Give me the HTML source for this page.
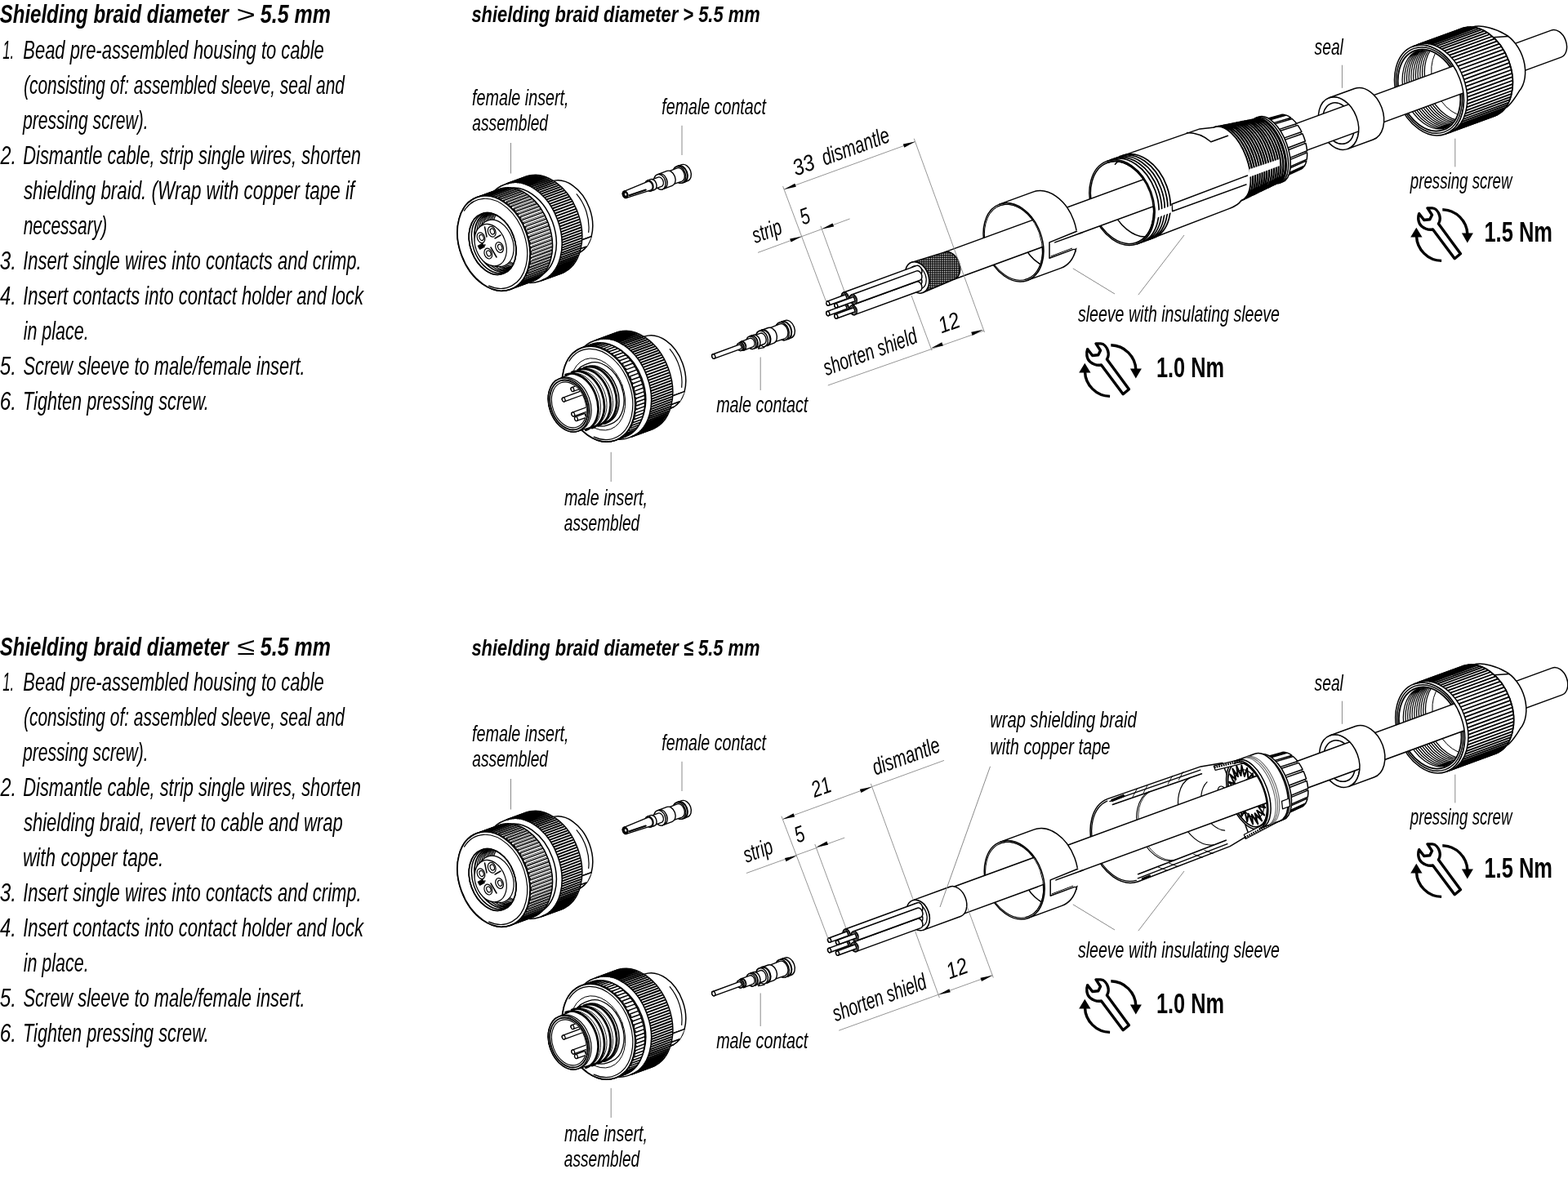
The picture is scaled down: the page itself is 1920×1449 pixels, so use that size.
<!DOCTYPE html>
<html lang="en"><head><meta charset="utf-8"><title>Assembly instructions</title>
<style>
html,body{margin:0;padding:0;background:#fff;}
body{width:1920px;height:1449px;overflow:hidden;}
svg{display:block;position:absolute;left:0;top:0;}
text{font-family:"Liberation Sans",sans-serif;fill:#000;white-space:pre;}
.o{fill:none;stroke:#000;stroke-width:1.5;stroke-linecap:round;stroke-linejoin:round;}
.w{fill:#fff;stroke:#000;stroke-width:1.5;stroke-linecap:round;stroke-linejoin:round;}
.wf{fill:#fff;stroke:none;}
.k{fill:none;stroke:#000;stroke-width:1.1;}
.t{fill:none;stroke:#000;stroke-width:1;}
.g{fill:none;stroke:#8a8a8a;stroke-width:1;}
.b{fill:#000;stroke:none;}
</style></head>
<body>
<svg style="will-change:transform" width="1920" height="1449" viewBox="0 0 1920 1449">
<text x="-0.29" y="28.3" textLength="280.2" lengthAdjust="spacingAndGlyphs" style="font-size:31.5px;font-weight:bold;font-style:italic;">Shielding braid diameter</text>
<text x="289.5" y="27.8" textLength="23.36" lengthAdjust="spacingAndGlyphs" style="font-size:30px;">&gt;</text>
<text x="318.8" y="28.3" textLength="86.24" lengthAdjust="spacingAndGlyphs" style="font-size:31.5px;font-weight:bold;font-style:italic;">5.5 mm</text>
<text x="3.34" y="72.05" textLength="13.93" lengthAdjust="spacingAndGlyphs" style="font-size:31.5px;font-style:italic;">1.</text>
<text x="28.3" y="72.05" textLength="368.47" lengthAdjust="spacingAndGlyphs" style="font-size:31.5px;font-style:italic;">Bead pre-assembled housing to cable</text>
<text x="29" y="115.05" textLength="392.89" lengthAdjust="spacingAndGlyphs" style="font-size:31.5px;font-style:italic;">(consisting of: assembled sleeve, seal and</text>
<text x="28" y="158.05" textLength="153.55" lengthAdjust="spacingAndGlyphs" style="font-size:31.5px;font-style:italic;">pressing screw).</text>
<text x="0.39" y="201.05" textLength="19.5" lengthAdjust="spacingAndGlyphs" style="font-size:31.5px;font-style:italic;">2.</text>
<text x="28.31" y="201.05" textLength="413.65" lengthAdjust="spacingAndGlyphs" style="font-size:31.5px;font-style:italic;">Dismantle cable, strip single wires, shorten</text>
<text x="28.91" y="244.05" textLength="405.17" lengthAdjust="spacingAndGlyphs" style="font-size:31.5px;font-style:italic;">shielding braid. (Wrap with copper tape if</text>
<text x="28.67" y="287.05" textLength="102.54" lengthAdjust="spacingAndGlyphs" style="font-size:31.5px;font-style:italic;">necessary)</text>
<text x="-0.28" y="330.05" textLength="20.29" lengthAdjust="spacingAndGlyphs" style="font-size:31.5px;font-style:italic;">3.</text>
<text x="28.13" y="330.05" textLength="414.59" lengthAdjust="spacingAndGlyphs" style="font-size:31.5px;font-style:italic;">Insert single wires into contacts and crimp.</text>
<text x="0.11" y="373.05" textLength="19.83" lengthAdjust="spacingAndGlyphs" style="font-size:31.5px;font-style:italic;">4.</text>
<text x="28.13" y="373.05" textLength="416.98" lengthAdjust="spacingAndGlyphs" style="font-size:31.5px;font-style:italic;">Insert contacts into contact holder and lock</text>
<text x="28.66" y="416.05" textLength="79.95" lengthAdjust="spacingAndGlyphs" style="font-size:31.5px;font-style:italic;">in place.</text>
<text x="-0.28" y="459.05" textLength="20.29" lengthAdjust="spacingAndGlyphs" style="font-size:31.5px;font-style:italic;">5.</text>
<text x="28.39" y="459.05" textLength="345.27" lengthAdjust="spacingAndGlyphs" style="font-size:31.5px;font-style:italic;">Screw sleeve to male/female insert.</text>
<text x="-0.36" y="502.05" textLength="20.38" lengthAdjust="spacingAndGlyphs" style="font-size:31.5px;font-style:italic;">6.</text>
<text x="28.02" y="502.05" textLength="227.65" lengthAdjust="spacingAndGlyphs" style="font-size:31.5px;font-style:italic;">Tighten pressing screw.</text>
<text x="-0.29" y="802.5" textLength="280.2" lengthAdjust="spacingAndGlyphs" style="font-size:31.5px;font-weight:bold;font-style:italic;">Shielding braid diameter</text>
<text x="290.33" y="802" textLength="21.95" lengthAdjust="spacingAndGlyphs" style="font-size:30px;">≤</text>
<text x="318.8" y="802.5" textLength="86.24" lengthAdjust="spacingAndGlyphs" style="font-size:31.5px;font-weight:bold;font-style:italic;">5.5 mm</text>
<text x="3.34" y="846.25" textLength="13.93" lengthAdjust="spacingAndGlyphs" style="font-size:31.5px;font-style:italic;">1.</text>
<text x="28.3" y="846.25" textLength="368.47" lengthAdjust="spacingAndGlyphs" style="font-size:31.5px;font-style:italic;">Bead pre-assembled housing to cable</text>
<text x="29" y="889.25" textLength="392.89" lengthAdjust="spacingAndGlyphs" style="font-size:31.5px;font-style:italic;">(consisting of: assembled sleeve, seal and</text>
<text x="28" y="932.25" textLength="153.55" lengthAdjust="spacingAndGlyphs" style="font-size:31.5px;font-style:italic;">pressing screw).</text>
<text x="0.39" y="975.25" textLength="19.5" lengthAdjust="spacingAndGlyphs" style="font-size:31.5px;font-style:italic;">2.</text>
<text x="28.31" y="975.25" textLength="413.65" lengthAdjust="spacingAndGlyphs" style="font-size:31.5px;font-style:italic;">Dismantle cable, strip single wires, shorten</text>
<text x="28.91" y="1018.25" textLength="390.76" lengthAdjust="spacingAndGlyphs" style="font-size:31.5px;font-style:italic;">shielding braid, revert to cable and wrap</text>
<text x="27.92" y="1061.25" textLength="172.38" lengthAdjust="spacingAndGlyphs" style="font-size:31.5px;font-style:italic;">with copper tape.</text>
<text x="-0.28" y="1104.25" textLength="20.29" lengthAdjust="spacingAndGlyphs" style="font-size:31.5px;font-style:italic;">3.</text>
<text x="28.13" y="1104.25" textLength="414.59" lengthAdjust="spacingAndGlyphs" style="font-size:31.5px;font-style:italic;">Insert single wires into contacts and crimp.</text>
<text x="0.11" y="1147.25" textLength="19.83" lengthAdjust="spacingAndGlyphs" style="font-size:31.5px;font-style:italic;">4.</text>
<text x="28.13" y="1147.25" textLength="416.98" lengthAdjust="spacingAndGlyphs" style="font-size:31.5px;font-style:italic;">Insert contacts into contact holder and lock</text>
<text x="28.66" y="1190.25" textLength="79.95" lengthAdjust="spacingAndGlyphs" style="font-size:31.5px;font-style:italic;">in place.</text>
<text x="-0.28" y="1233.25" textLength="20.29" lengthAdjust="spacingAndGlyphs" style="font-size:31.5px;font-style:italic;">5.</text>
<text x="28.39" y="1233.25" textLength="345.27" lengthAdjust="spacingAndGlyphs" style="font-size:31.5px;font-style:italic;">Screw sleeve to male/female insert.</text>
<text x="-0.36" y="1276.25" textLength="20.38" lengthAdjust="spacingAndGlyphs" style="font-size:31.5px;font-style:italic;">6.</text>
<text x="28.02" y="1276.25" textLength="227.65" lengthAdjust="spacingAndGlyphs" style="font-size:31.5px;font-style:italic;">Tighten pressing screw.</text>
<defs><pattern id="hatch" width="1.6" height="1.6" patternUnits="userSpaceOnUse"><rect width="1.6" height="1.6" fill="#fff"/><path d="M0 0.4H1.6M0.4 0V1.6" stroke="#000" stroke-width="0.75"/></pattern></defs>
<text x="577.41" y="27" textLength="353.2" lengthAdjust="spacingAndGlyphs" style="font-size:28px;font-weight:bold;font-style:italic;">shielding braid diameter &gt; 5.5 mm</text>
<clipPath id="psclip0"><ellipse cx="1750" cy="110.5" rx="35.7" ry="51" transform="rotate(-20.1 1750 110.5)"/></clipPath>
<ellipse cx="1750" cy="110.5" rx="40" ry="57.2" transform="rotate(-20.1 1750 110.5)" class="w"/>
<ellipse cx="1750" cy="110.5" rx="38.1" ry="54.4" transform="rotate(-20.1 1750 110.5)" class="o"/>
<ellipse cx="1750" cy="110.5" rx="36.1" ry="51.6" transform="rotate(-20.1 1750 110.5)" class="o" style="stroke-width:1.8"/>
<g clip-path="url(#psclip0)"><path d="M1765.8 66.7A35.3 50.5 -20.1 0 0 1718.9 83.9A35.3 50.5 -20.1 0 0 1743.4 150.9A35.3 50.5 -20.1 0 0 1790.3 133.8M1768.5 65.7A35.3 50.5 -20.1 0 0 1721.6 82.9A35.3 50.5 -20.1 0 0 1746.1 149.9A35.3 50.5 -20.1 0 0 1793.1 132.8M1771.3 64.7A35.3 50.5 -20.1 0 0 1724.3 81.9A35.3 50.5 -20.1 0 0 1748.8 148.9A35.3 50.5 -20.1 0 0 1795.8 131.8M1774 63.7A35.3 50.5 -20.1 0 0 1727 80.9A35.3 50.5 -20.1 0 0 1751.6 148A35.3 50.5 -20.1 0 0 1798.5 130.8M1776.7 62.7A35.3 50.5 -20.1 0 0 1729.7 79.9A35.3 50.5 -20.1 0 0 1754.3 147A35.3 50.5 -20.1 0 0 1801.2 129.8M1779.4 61.7A35.3 50.5 -20.1 0 0 1732.5 78.9A35.3 50.5 -20.1 0 0 1757 146A35.3 50.5 -20.1 0 0 1804 128.8M1782.1 60.7A35.3 50.5 -20.1 0 0 1735.2 77.9A35.3 50.5 -20.1 0 0 1759.7 145A35.3 50.5 -20.1 0 0 1806.7 127.8M1784.9 59.7A35.3 50.5 -20.1 0 0 1737.9 76.9A35.3 50.5 -20.1 0 0 1762.5 144A35.3 50.5 -20.1 0 0 1809.4 126.8M1787.6 58.7A35.3 50.5 -20.1 0 0 1740.6 75.9A35.3 50.5 -20.1 0 0 1765.2 143A35.3 50.5 -20.1 0 0 1812.1 125.8M1790.3 57.7A35.3 50.5 -20.1 0 0 1743.4 74.9A35.3 50.5 -20.1 0 0 1767.9 142A35.3 50.5 -20.1 0 0 1814.9 124.8M1793 56.7A35.3 50.5 -20.1 0 0 1746.1 73.9A35.3 50.5 -20.1 0 0 1770.6 141A35.3 50.5 -20.1 0 0 1817.6 123.8" class="t" style="stroke-width:1.25"/><path d="M1798 57.5A32.9 47 -20.1 0 0 1754.3 73.5A32.9 47 -20.1 0 0 1777.1 136A32.9 47 -20.1 0 0 1820.8 120" class="o" style="stroke-width:1"/><path d="M1801.6 53.1A26.6 38 -20.1 0 0 1778.6 87.5A26.6 38 -20.1 0 0 1811 126.6" class="o"/></g>
<ellipse cx="1639" cy="151.1" rx="23.3" ry="33.3" transform="rotate(-20.1 1639 151.1)" class="w"/>
<ellipse cx="1639" cy="151.1" rx="18.2" ry="26" transform="rotate(-20.1 1639 151.1)" class="w"/>
<path d="M1655.7 117.7A18.2 26 -20.1 0 0 1650.1 147.1A18.2 26 -20.1 0 0 1673.3 165.9" class="o" clip-path="url(#sealclip0)"/>
<clipPath id="sealclip0"><ellipse cx="1639" cy="151.1" rx="18.2" ry="26" transform="rotate(-20.1 1639 151.1)"/></clipPath>
<ellipse cx="1241" cy="296.8" rx="34.8" ry="49.7" transform="rotate(-20.1 1241 296.8)" class="w"/>
<ellipse cx="1241" cy="296.8" rx="33.5" ry="47.9" transform="rotate(-20.1 1241 296.8)" class="o" style="stroke-width:1"/>
<clipPath id="ringclip0"><ellipse cx="1241" cy="296.8" rx="33.5" ry="47.9" transform="rotate(-20.1 1241 296.8)"/></clipPath>
<path d="M1253.3 300.3A33.7 48.2 -20.1 0 0 1298.6 327" class="o" clip-path="url(#ringclip0)"/>
<ellipse cx="1374" cy="248.1" rx="37.8" ry="54" transform="rotate(-20.1 1374 248.1)" class="w"/>
<ellipse cx="1374" cy="248.1" rx="36.4" ry="52" transform="rotate(-20.1 1374 248.1)" class="o"/>
<clipPath id="slclip0"><ellipse cx="1374" cy="248.1" rx="36.4" ry="52" transform="rotate(-20.1 1374 248.1)"/></clipPath>
<path d="M1358.2 245.5A35.3 50.5 -20.1 0 0 1379.7 280.9A35.3 50.5 -20.1 0 0 1411.1 288.3" class="o" clip-path="url(#slclip0)"/>
<path d="M1376.4 193.5A35.3 50.5 -20.1 0 0 1365.4 201.3" class="o" clip-path="url(#slclip0)"/>
<path d="M1156.6 308.9L1899.5 37.1A12.3 17.6 -20.1 0 1 1917.1 49.4A12.3 17.6 -20.1 0 1 1911.5 70.1L1168.6 342A12.3 17.6 -20.1 0 0 1174.2 321.2A12.3 17.6 -20.1 0 0 1156.6 308.9Z" class="wf"/>
<path d="M1156.6 308.9L1899.5 37.1A12.3 17.6 -20.1 0 1 1917.1 49.4A12.3 17.6 -20.1 0 1 1911.5 70.1L1168.6 342" class="o"/>
<path d="M1116.2 321.4L1156.6 308.9A12.3 17.6 -20.1 0 1 1174.2 321.2A12.3 17.6 -20.1 0 1 1168.6 342L1129.8 358.5A13.9 19.8 -20.1 0 0 1136 335.2A13.9 19.8 -20.1 0 0 1116.2 321.4Z" fill="url(#hatch)" stroke="#000" stroke-width="1.5"/>
<ellipse cx="1123" cy="339.9" rx="13.9" ry="19.8" transform="rotate(-20.1 1123 339.9)" class="w"/>
<ellipse cx="1123.5" cy="339.8" rx="10.1" ry="14.5" transform="rotate(-20.1 1123.5 339.8)" class="o" style="stroke-width:1.2"/>
<path d="M1032.8 370.6L1122.4 337.8A4.2 6 -20.1 0 1 1128.4 342A4.2 6 -20.1 0 1 1126.6 349.1L1036.9 381.9A4.2 6 -20.1 0 1 1030.9 377.7A4.2 6 -20.1 0 1 1032.8 370.6Z" class="w"/>
<ellipse cx="1034.9" cy="376.3" rx="4.2" ry="6" transform="rotate(-20.1 1034.9 376.3)" class="w"/>
<ellipse cx="1034.9" cy="376.3" rx="3.1" ry="4.4" transform="rotate(-20.1 1034.9 376.3)" class="o" style="stroke-width:1"/>
<path d="M1035.4 373.2L1012.8 381.5A1.9 2.7 -20.1 0 0 1012 384.6A1.9 2.7 -20.1 0 0 1014.7 386.5L1037.2 378.3Z" class="w"/>
<ellipse cx="1013.8" cy="384" rx="1.9" ry="2.7" transform="rotate(-20.1 1013.8 384)" class="w"/>
<path d="M1032.8 358.2L1122.4 325.4A4.2 6 -20.1 0 1 1128.4 329.6A4.2 6 -20.1 0 1 1126.6 336.7L1036.9 369.5A4.2 6 -20.1 0 1 1030.9 365.3A4.2 6 -20.1 0 1 1032.8 358.2Z" class="w"/>
<ellipse cx="1034.9" cy="363.9" rx="4.2" ry="6" transform="rotate(-20.1 1034.9 363.9)" class="w"/>
<ellipse cx="1034.9" cy="363.9" rx="3.1" ry="4.4" transform="rotate(-20.1 1034.9 363.9)" class="o" style="stroke-width:1"/>
<path d="M1035.4 360.8L1012.8 369.1A1.9 2.7 -20.1 0 0 1012 372.2A1.9 2.7 -20.1 0 0 1014.7 374.1L1037.2 365.9Z" class="w"/>
<ellipse cx="1013.8" cy="371.6" rx="1.9" ry="2.7" transform="rotate(-20.1 1013.8 371.6)" class="w"/>
<path d="M1042.8 374.1L1122.4 345A4.2 6 -20.1 0 1 1128.4 349.2A4.2 6 -20.1 0 1 1126.6 356.3L1046.9 385.4A4.2 6 -20.1 0 1 1040.9 381.2A4.2 6 -20.1 0 1 1042.8 374.1Z" class="w"/>
<ellipse cx="1044.9" cy="379.8" rx="4.2" ry="6" transform="rotate(-20.1 1044.9 379.8)" class="w"/>
<ellipse cx="1044.9" cy="379.8" rx="3.1" ry="4.4" transform="rotate(-20.1 1044.9 379.8)" class="o" style="stroke-width:1"/>
<path d="M1045.4 376.7L1022.8 385A1.9 2.7 -20.1 0 0 1022 388.1A1.9 2.7 -20.1 0 0 1024.7 390L1047.2 381.8Z" class="w"/>
<ellipse cx="1023.8" cy="387.5" rx="1.9" ry="2.7" transform="rotate(-20.1 1023.8 387.5)" class="w"/>
<path d="M1042.8 361L1122.4 331.9A4.2 6 -20.1 0 1 1128.4 336.1A4.2 6 -20.1 0 1 1126.6 343.2L1046.9 372.3A4.2 6 -20.1 0 1 1040.9 368.1A4.2 6 -20.1 0 1 1042.8 361Z" class="w"/>
<ellipse cx="1044.9" cy="366.7" rx="4.2" ry="6" transform="rotate(-20.1 1044.9 366.7)" class="w"/>
<ellipse cx="1044.9" cy="366.7" rx="3.1" ry="4.4" transform="rotate(-20.1 1044.9 366.7)" class="o" style="stroke-width:1"/>
<path d="M1045.4 363.6L1022.8 371.9A1.9 2.7 -20.1 0 0 1022 375A1.9 2.7 -20.1 0 0 1024.7 376.9L1047.2 368.7Z" class="w"/>
<ellipse cx="1023.8" cy="374.4" rx="1.9" ry="2.7" transform="rotate(-20.1 1023.8 374.4)" class="w"/>
<path d="M1802.9 33.2C1814.2 29.1 1834.2 37 1841.1 41A29.4 42 -20.1 0 1 1865.7 73.8A29.4 42 -20.1 0 1 1860.1 111.8C1857.6 116.1 1848.6 130.3 1843 132.4Z" class="w"/>
<path d="M1828.9 45.8L1846.7 44.5" class="o"/>
<path d="M1730.3 56.8L1790.3 34.8A40 57.2 -20.1 0 1 1847.6 74.8A40 57.2 -20.1 0 1 1829.7 142.3L1769.7 164.2A40 57.2 -20.1 0 0 1787.6 96.7A40 57.2 -20.1 0 0 1730.3 56.8Z" class="w"/>
<path d="M1773.9 162.7A40 57.2 -20.1 0 0 1791.8 95.2A40 57.2 -20.1 0 0 1734.6 55.2" class="o"/>
<path d="M1775.3 162.1L1831.1 141.7M1778.2 160.7L1833.9 140.3M1780.8 159L1836.6 138.5M1783.4 156.9L1839.1 136.5M1785.7 154.6L1841.5 134.2M1787.8 152L1843.6 131.6M1789.7 149.1L1845.5 128.7M1791.5 146L1847.2 125.6M1792.9 142.6L1848.7 122.2M1794.2 139.1L1850 118.6M1795.2 135.3L1851 114.9M1795.9 131.4L1851.7 111M1796.4 127.4L1852.2 106.9M1796.6 123.2L1852.4 102.8M1796.6 118.9L1852.4 98.5M1796.3 114.6L1852.1 94.2M1795.8 110.3L1851.5 89.9M1794.9 105.9L1850.7 85.5M1793.9 101.6L1849.7 81.2M1792.6 97.3L1848.3 76.9M1791 93.1L1846.8 72.7M1789.3 89L1845 68.6M1787.3 85L1843 64.6M1785.1 81.1L1840.9 60.7M1782.7 77.5L1838.5 57M1780.1 74L1835.9 53.6M1777.4 70.7L1833.2 50.3M1774.6 67.7L1830.3 47.3M1771.6 64.9L1827.4 44.5M1768.5 62.4L1824.3 42M1765.3 60.2L1821.1 39.8M1762.1 58.3L1817.8 37.8M1758.8 56.6L1814.5 36.2M1755.4 55.4L1811.2 35M1752.1 54.4L1807.9 34M1748.8 53.8L1804.6 33.4M1745.5 53.5L1801.3 33.1M1742.3 53.6L1798.1 33.2M1739.1 54L1794.9 33.6M1736.1 54.7L1791.8 34.3" class="k" style="stroke-width:1.8"/>
<path d="M1829.7 142.3A40 57.2 -20.1 0 0 1847.6 74.8A40 57.2 -20.1 0 0 1790.3 34.8" class="o"/>
<path d="M1627.6 119.8L1658.6 108.5A23.3 33.3 -20.1 0 1 1691.9 131.8A23.3 33.3 -20.1 0 1 1681.4 171L1650.4 182.4A23.3 33.3 -20.1 0 0 1660.9 143.1A23.3 33.3 -20.1 0 0 1627.6 119.8Z" class="w"/>
<path d="M1223.9 250.1L1264.9 235.1A34.8 49.7 -20.1 0 1 1314.7 269.8A34.8 49.7 -20.1 0 1 1299.1 328.4L1258.1 343.4A34.8 49.7 -20.1 0 0 1273.7 284.8A34.8 49.7 -20.1 0 0 1223.9 250.1Z" class="w"/>
<path d="M1254.2 342.7A33.5 47.9 -20.1 0 0 1276.4 310.8A33.5 47.9 -20.1 0 0 1259 263.2A33.5 47.9 -20.1 0 0 1221.5 253.2" class="o" style="stroke-width:1"/>
<path d="M1321 281L1285 296.9L1285 316.3L1313.8 305.6L1320 303Z" class="wf"/>
<path d="M1318.5 283.3L1285 296.9L1285 316.3L1313.8 305.6Q1317.5 304.6 1317 308" class="o"/>
<path d="M1286.5 314L1313 304" class="t"/>
<path d="M1291.8 296.9L1325.2 284.7" class="o"/>
<path d="M1544.1 150.6L1568.8 143.7A16.2 32.5 -20.1 0 1 1595.3 168.6A16.2 32.5 -20.1 0 1 1591.2 204.7L1567.9 215.4A17.2 34.5 -20.1 0 0 1572.2 177.1A17.2 34.5 -20.1 0 0 1544.1 150.6Z" class="w" style="stroke-width:1"/>
<path d="M1569.4 218L1592.7 207.4A17.8 35.5 -20.1 0 0 1596.7 204.1L1573.6 214.6Z" class="w" style="stroke-width:1.5"/>
<path d="M1574.5 213.4L1597.5 203A17.8 35.5 -20.1 0 0 1599.8 196.9L1577 207Z" class="w" style="stroke-width:1.5"/>
<path d="M1577.3 205.1L1600.2 195.1A17.8 35.5 -20.1 0 0 1600.6 186.9L1577.8 196.4Z" class="w" style="stroke-width:1.5"/>
<path d="M1577.6 194.1L1600.5 184.7A17.8 35.5 -20.1 0 0 1598.9 175.4L1576 184.3Z" class="w" style="stroke-width:1.5"/>
<path d="M1575.3 181.8L1598.3 173A17.8 35.5 -20.1 0 0 1594.9 163.8L1571.7 171.9Z" class="w" style="stroke-width:1.5"/>
<path d="M1570.7 169.6L1593.9 161.5A17.8 35.5 -20.1 0 0 1589.1 153.4L1565.6 161Z" class="w" style="stroke-width:1.5"/>
<path d="M1564.2 159.1L1587.8 151.5A17.8 35.5 -20.1 0 0 1582.2 145.5L1558.4 152.6Z" class="w" style="stroke-width:1.5"/>
<path d="M1556.8 151.4L1580.8 144.3A17.8 35.5 -20.1 0 0 1575.1 141.1L1550.8 148Z" class="w" style="stroke-width:1.5"/>
<path d="M1549.3 147.5L1573.7 140.7A17.8 35.5 -20.1 0 0 1568.5 140.6L1543.9 147.5Z" class="w" style="stroke-width:1.5"/>
<path d="M1535.9 145.1L1540.9 143.3A21.2 42.5 -20.1 0 1 1575.5 175.9A21.2 42.5 -20.1 0 1 1570.1 223.1L1565.1 224.9A21.2 42.5 -20.1 0 0 1570.5 177.7A21.2 42.5 -20.1 0 0 1535.9 145.1Z" class="w"/>
<path d="M1567.5 224A21.2 42.5 -20.1 0 0 1572.9 176.8A21.2 42.5 -20.1 0 0 1538.3 144.2" class="o"/>
<path d="M1487.1 155.9L1535.7 146.2A20.8 41.5 -20.1 0 1 1569.5 178.1A20.8 41.5 -20.1 0 1 1564.3 224.2L1519.9 245.5A23.9 47.7 -20.1 0 0 1525.9 192.5A23.9 47.7 -20.1 0 0 1487.1 155.9Z" class="w"/>
<path d="M1519.9 245.5A23.9 47.7 -20.1 0 0 1525.9 192.5A23.9 47.7 -20.1 0 0 1487.1 155.9M1522.9 244.1A23.6 47.3 -20.1 0 0 1528.8 191.5A23.6 47.3 -20.1 0 0 1490.3 155.3M1525.8 242.7A23.4 46.9 -20.1 0 0 1531.7 190.6A23.4 46.9 -20.1 0 0 1493.6 154.6M1528.8 241.2A23.2 46.5 -20.1 0 0 1534.6 189.6A23.2 46.5 -20.1 0 0 1496.8 154M1531.7 239.8A23 46 -20.1 0 0 1537.5 188.7A23 46 -20.1 0 0 1500.1 153.3M1534.7 238.4A22.8 45.6 -20.1 0 0 1540.4 187.7A22.8 45.6 -20.1 0 0 1503.3 152.7M1537.6 237A22.6 45.2 -20.1 0 0 1543.3 186.7A22.6 45.2 -20.1 0 0 1506.6 152M1540.6 235.5A22.4 44.8 -20.1 0 0 1546.2 185.8A22.4 44.8 -20.1 0 0 1509.8 151.4M1543.6 234.1A22.2 44.4 -20.1 0 0 1549.1 184.8A22.2 44.4 -20.1 0 0 1513 150.7M1546.5 232.7A22 44 -20.1 0 0 1552.1 183.8A22 44 -20.1 0 0 1516.3 150.1M1549.5 231.3A21.8 43.6 -20.1 0 0 1555 182.9A21.8 43.6 -20.1 0 0 1519.5 149.4M1552.4 229.9A21.6 43.2 -20.1 0 0 1557.9 181.9A21.6 43.2 -20.1 0 0 1522.8 148.8M1555.4 228.4A21.4 42.7 -20.1 0 0 1560.8 180.9A21.4 42.7 -20.1 0 0 1526 148.2M1558.3 227A21.2 42.3 -20.1 0 0 1563.7 180A21.2 42.3 -20.1 0 0 1529.3 147.5M1561.3 225.6A21 41.9 -20.1 0 0 1566.6 179A21 41.9 -20.1 0 0 1532.5 146.9M1564.3 224.2A20.8 41.5 -20.1 0 0 1569.5 178.1A20.8 41.5 -20.1 0 0 1535.7 146.2" class="o" style="stroke-width:2.2"/>
<path d="M1355.4 197.4L1469.1 157.9L1487.1 155.9A23.9 47.7 -20.1 0 1 1525.9 192.5A23.9 47.7 -20.1 0 1 1519.9 245.5C1517.4 249.8 1511.4 253.2 1504.9 255.6L1392.6 298.8A37.8 54 -20.1 0 0 1409.5 235.1A37.8 54 -20.1 0 0 1355.4 197.4Z" class="w"/>
<path d="M1397.5 297A37.8 54 -20.1 0 0 1414.5 233.3A37.8 54 -20.1 0 0 1360.4 195.6M1401.1 295.7A37.8 54 -20.1 0 0 1418 232A37.8 54 -20.1 0 0 1364 194.3M1404.7 294.4A37.8 54 -20.1 0 0 1421.6 230.7A37.8 54 -20.1 0 0 1367.6 193M1408.2 293.1A37.8 54 -20.1 0 0 1425.2 229.4A37.8 54 -20.1 0 0 1371.1 191.6M1411.8 291.8A37.8 54 -20.1 0 0 1428.7 228.1A37.8 54 -20.1 0 0 1374.7 190.3" class="o" style="stroke-width:1.7"/>
<path d="M1391.9 296.9A36.4 52 -20.1 0 0 1408.2 235.6A36.4 52 -20.1 0 0 1356.1 199.3" class="o"/>
<path d="M1527.5 215L1435 250L1435.6 258.8L1526 226" class="o"/>
<path d="M1416.4 266.7L1416.9 258.2L1434.7 251.7L1434.2 260.2Z" class="wf"/>
<path d="M1529.5 207.5L1566.5 195L1567 203L1529.5 217Z" class="wf"/>
<path d="M1453.5 162.5C1464 162.5 1474 166 1482.8 173.8L1503.5 166.3" class="o"/>
<path d="M649.9 231.5L674.9 222.4A32.8 46.8 -20.1 0 1 721.8 255.1A32.8 46.8 -20.1 0 1 707.1 310.3L682.1 319.4A32.8 46.8 -20.1 0 1 635.2 286.8A32.8 46.8 -20.1 0 1 649.9 231.5Z" class="w"/>
<path d="M706.2 237.8A32.8 46.8 -20.1 0 1 720.7 284.5" class="o" style="stroke-width:1.2"/>
<path d="M718.2 301.9L703.2 307.4" class="o"/>
<path d="M724.1 289.7L709 295.2" class="o"/>
<path d="M718.7 301.7L704.1 307L710 294.8L724.5 289.5Z" class="wf"/>
<path d="M718.2 301.9L704.1 307M724.1 289.7L710 294.8" class="o"/>
<path d="M711 308.6L696 314.1l-3 -5" class="o"/>
<path d="M617.3 226.2L644.3 216.3A44.1 63 -20.1 0 1 707.4 260.3A44.1 63 -20.1 0 1 687.7 334.7L660.7 344.5A44.1 63 -20.1 0 1 597.6 300.5A44.1 63 -20.1 0 1 617.3 226.2Z" class="w"/>
<path d="M664.1 343.2L688.3 334.4M666.3 342.3L690.5 333.4M668.4 341.1L692.6 332.2M670.4 339.8L694.6 330.9M672.4 338.3L696.5 329.4M674.2 336.6L698.4 327.8M676 334.8L700.1 326M677.6 332.9L701.8 324M679.1 330.8L703.3 321.9M680.6 328.6L704.8 319.7M681.9 326.2L706.1 317.4M683.1 323.7L707.3 314.9M684.2 321.1L708.4 312.3M685.1 318.4L709.3 309.6M685.9 315.6L710.1 306.8M686.6 312.7L710.8 303.9M687.2 309.8L711.4 300.9M687.6 306.7L711.8 297.9M687.9 303.6L712.1 294.8M688.1 300.4L712.2 291.6M688.1 297.2L712.3 288.4M687.9 294L712.1 285.1M687.7 290.7L711.9 281.8M687.3 287.4L711.5 278.5M686.8 284.1L710.9 275.2M686.1 280.8L710.3 271.9M685.3 277.5L709.5 268.6M684.4 274.2L708.6 265.4M683.3 271L707.5 262.1M682.2 267.8L706.3 258.9M680.9 264.6L705.1 255.8M679.5 261.5L703.6 252.7M677.9 258.5L702.1 249.6M676.3 255.5L700.5 246.7M674.6 252.7L698.8 243.8M672.8 249.9L696.9 241M670.8 247.2L695 238.4M668.8 244.7L693 235.8M666.7 242.2L690.9 233.4M664.6 239.9L688.8 231M662.4 237.7L686.5 228.8M660.1 235.6L684.2 226.8M657.7 233.7L681.9 224.9M655.3 232L679.5 223.1M652.9 230.4L677.1 221.5M650.4 228.9L674.6 220.1M647.9 227.6L672.1 218.8M645.4 226.5L669.6 217.7M642.9 225.6L667.1 216.7M640.4 224.8L664.5 215.9M637.8 224.2L662 215.3M635.3 223.8L659.5 214.9M632.8 223.5L657 214.7M630.3 223.4L654.5 214.6M627.9 223.6L652.1 214.7M625.5 223.8L649.7 215M623.1 224.3L647.3 215.5M620.8 225L645 216.1" class="k" style="stroke-width:1.9"/>
<path d="M663 343.7A44.1 63 -20.1 0 0 682.8 269.4A44.1 63 -20.1 0 0 619.7 225.4" class="o"/>
<path d="M612.4 234.4L619.4 231.8A39.9 57 -20.1 0 1 676.5 271.7A39.9 57 -20.1 0 1 658.6 338.9L651.6 341.5A39.9 57 -20.1 0 1 594.5 301.6A39.9 57 -20.1 0 1 612.4 234.4Z" class="w"/>
<path d="M657.3 339.1A39.9 57 -20.1 0 0 671.5 273.5A39.9 57 -20.1 0 0 618.3 232.6" class="t"/>
<path d="M583.9 241.7L611.4 231.6A42 60 -20.1 0 1 671.4 273.5A42 60 -20.1 0 1 652.6 344.3L625.1 354.3A42 60 -20.1 0 1 565.1 312.4A42 60 -20.1 0 1 583.9 241.7Z" class="w"/>
<path d="M626.9 353.7L653.5 343.9M629.8 352.3L656.4 342.6M632.5 350.7L659.1 341M635.1 348.8L661.6 339M637.5 346.5L664 336.8M639.7 344.1L666.3 334.3M641.7 341.3L668.3 331.6M643.5 338.3L670.1 328.6M645.2 335.1L671.7 325.4M646.5 331.7L673.1 321.9M647.7 328L674.3 318.3M648.6 324.2L675.2 314.5M649.3 320.3L675.9 310.6M649.7 316.2L676.3 306.5M649.9 312.1L676.5 302.3M649.9 307.8L676.4 298.1M649.6 303.5L676.1 293.8M649 299.2L675.6 289.4M648.2 294.8L674.8 285.1M647.2 290.5L673.7 280.8M645.9 286.2L672.5 276.5M644.4 282L671 272.2M642.7 277.8L669.3 268.1M640.8 273.8L667.3 264.1M638.6 269.9L665.2 260.2M636.3 266.2L662.9 256.4M633.9 262.6L660.4 252.9M631.2 259.2L657.8 249.5M628.4 256.1L655 246.3M625.5 253.1L652.1 243.4M622.5 250.5L649.1 240.7M619.4 248.1L645.9 238.3M616.2 245.9L642.7 236.2M612.9 244.1L639.5 234.4M609.6 242.5L636.2 232.8M606.3 241.3L632.9 231.6M603 240.4L629.5 230.7M599.7 239.8L626.2 230.1M596.4 239.5L622.9 229.8M593.2 239.6L619.7 229.8M590 239.9L616.5 230.2M586.9 240.6L613.5 230.9" class="k" style="stroke-width:1.4"/>
<path d="M629.5 352.7L654.7 343.4M632.3 351.2L657.5 342M635 349.4L660.1 340.2M637.5 347.4L662.6 338.2M639.8 345.1L664.9 335.9M641.9 342.5L667.1 333.3M643.9 339.6L669 330.4M645.6 336.5L670.8 327.3M647.1 333.2L672.3 324M648.4 329.7L673.6 320.5M649.5 326L674.7 316.8M650.3 322.2L675.5 313M650.9 318.2L676.1 309M651.3 314.1L676.4 304.9M651.4 309.9L676.5 300.7M651.2 305.6L676.3 296.4M650.8 301.3L675.9 292.1M650.1 296.9L675.3 287.7M649.2 292.6L674.4 283.4M648.1 288.2L673.3 279M646.7 284L671.9 274.8M645.2 279.8L670.3 270.6M643.4 275.7L668.5 266.5M641.4 271.7L666.5 262.5M639.2 267.9L664.3 258.7M636.8 264.2L661.9 255M634.2 260.7L659.4 251.5M631.5 257.4L656.7 248.2M628.7 254.3L653.8 245.1M625.7 251.5L650.9 242.3M622.7 249L647.8 239.7M619.5 246.7L644.7 237.5M616.3 244.6L641.4 235.4M613 242.9L638.2 233.7M609.7 241.5L634.9 232.3M606.4 240.4L631.5 231.2M603.1 239.6L628.2 230.4M599.8 239.1L624.9 229.9M596.5 239L621.6 229.8M593.3 239.2L618.4 230M590.2 239.7L615.3 230.5M587.1 240.5L612.3 231.3" class="k" style="stroke-width:0.7"/>
<ellipse cx="604.5" cy="298" rx="42" ry="60" transform="rotate(-20.1 604.5 298)" class="w" style="stroke-width:1.8"/>
<path d="M614.7 356.2L618.7 355.5L619.4 355.8L623.3 354.8L623.8 354.8L627.7 353.4L628 353.1L631.7 351.4L632 350.7L635.5 348.7L635.6 347.8L639 345.5L638.9 344.2L642.1 341.6L641.8 340.1L644.7 337.3L644.2 335.5L646.9 332.4L646.1 330.5L648.6 327.2L647.6 325.1L649.8 321.6L648.5 319.3L650.5 315.8L649 313.4L650.7 309.7L648.9 307.2L650.3 303.4L648.3 300.9L649.5 297.1L647.2 294.6L648.1 290.8L645.5 288.3L646.2 284.6L643.4 282.2L643.9 278.5L640.8 276.2L641.1 272.7L637.8 270.5L637.9 267.1L634.5 265.1L634.3 261.9L630.7 260.1L630.4 257.1L626.7 255.5L626.2 252.8L622.3 251.5L621.8 249L617.8 248L617.2 245.8L613.1 245L612.5 243.2L608.4 242.7L607.6 241.2L603.5 241.1L602.8 239.9L598.7 240.1L598 239.3L594 239.8L593.3 239.3L589.3 240.2L588.8 240.1L584.9 241.3L584.5 241.5L580.7 243L580.4 243.5L576.8 245.4L576.6 246.2L573.1 248.4" class="o" style="stroke-width:1.2"/>
<path d="M598.6 350.1A39.8 56.8 -20.1 0 0 644.1 325A39.8 56.8 -20.1 0 0 621.2 254.9A39.8 56.8 -20.1 0 0 568.5 258.1" class="o" style="stroke-width:1.2"/>
<ellipse cx="603.1" cy="298.5" rx="27.3" ry="39" transform="rotate(-20.1 603.1 298.5)" class="w"/>
<clipPath id="fi0"><ellipse cx="603.1" cy="298.5" rx="27.3" ry="39" transform="rotate(-20.1 603.1 298.5)"/></clipPath>
<g clip-path="url(#fi0)"><path d="M596.8 260.3A26.9 38.5 -20.1 0 0 577.5 285.6A26.9 38.5 -20.1 0 0 591.9 324.9A26.9 38.5 -20.1 0 0 622.9 331.7" class="o"/><path d="M600.2 259.6A26.6 38 -20.1 0 0 581.1 284.5A26.6 38 -20.1 0 0 595.4 323.4A26.6 38 -20.1 0 0 626 330.1" class="o" style="stroke-width:1.8"/><path d="M606.9 259.1A26.2 37.5 -20.1 0 0 584 282A26.2 37.5 -20.1 0 0 599.2 323.4A26.2 37.5 -20.1 0 0 631.4 326.1M609.3 258.2A26.2 37.5 -20.1 0 0 586.5 281.1A26.2 37.5 -20.1 0 0 601.6 322.5A26.2 37.5 -20.1 0 0 633.9 325.2M611.8 257.4A26.2 37.5 -20.1 0 0 588.9 280.2A26.2 37.5 -20.1 0 0 604.1 321.6A26.2 37.5 -20.1 0 0 636.3 324.3M614.2 256.5A26.2 37.5 -20.1 0 0 591.3 279.3A26.2 37.5 -20.1 0 0 606.5 320.7A26.2 37.5 -20.1 0 0 638.7 323.4M616.7 255.6A26.2 37.5 -20.1 0 0 593.8 278.4A26.2 37.5 -20.1 0 0 608.9 319.8A26.2 37.5 -20.1 0 0 641.2 322.6M619.1 254.7A26.2 37.5 -20.1 0 0 596.2 277.6A26.2 37.5 -20.1 0 0 611.4 319A26.2 37.5 -20.1 0 0 643.6 321.7M621.6 253.8A26.2 37.5 -20.1 0 0 598.7 276.7A26.2 37.5 -20.1 0 0 613.8 318.1A26.2 37.5 -20.1 0 0 646.1 320.8M624 252.9A26.2 37.5 -20.1 0 0 601.1 275.8A26.2 37.5 -20.1 0 0 616.3 317.2A26.2 37.5 -20.1 0 0 648.5 319.9M626.4 252A26.2 37.5 -20.1 0 0 603.6 274.9A26.2 37.5 -20.1 0 0 618.7 316.3A26.2 37.5 -20.1 0 0 651 319" class="o" style="stroke-width:1.3"/><ellipse cx="607.3" cy="297.8" rx="20.6" ry="29.5" transform="rotate(-20.1 607.3 297.8)" class="w" style="stroke-width:1.2"/><ellipse cx="600.7" cy="300.2" rx="18.5" ry="26.5" transform="rotate(-20.1 600.7 300.2)" class="w" style="stroke-width:1.2"/></g>
<ellipse cx="603.1" cy="298.5" rx="27.3" ry="39" transform="rotate(-20.1 603.1 298.5)" class="o"/>
<ellipse cx="602.2" cy="283.8" rx="4.6" ry="6.6" transform="rotate(-20.1 602.2 283.8)" class="w" style="stroke-width:1.2"/>
<ellipse cx="602.8" cy="283.5" rx="2.5" ry="3.6" transform="rotate(-20.1 602.8 283.5)" class="w" style="stroke-width:1.2"/>
<ellipse cx="589" cy="291.2" rx="4.6" ry="6.6" transform="rotate(-20.1 589 291.2)" class="w" style="stroke-width:1.2"/>
<ellipse cx="589.6" cy="291" rx="2.5" ry="3.6" transform="rotate(-20.1 589.6 291)" class="w" style="stroke-width:1.2"/>
<ellipse cx="611.6" cy="303" rx="4.6" ry="6.6" transform="rotate(-20.1 611.6 303)" class="w" style="stroke-width:1.2"/>
<ellipse cx="612.2" cy="302.8" rx="2.5" ry="3.6" transform="rotate(-20.1 612.2 302.8)" class="w" style="stroke-width:1.2"/>
<ellipse cx="597.8" cy="310.6" rx="4.6" ry="6.6" transform="rotate(-20.1 597.8 310.6)" class="w" style="stroke-width:1.2"/>
<ellipse cx="598.4" cy="310.4" rx="2.5" ry="3.6" transform="rotate(-20.1 598.4 310.4)" class="w" style="stroke-width:1.2"/>
<path d="M594 300L586.5 303.5M606 292L613 288M601 303L608 315M593.5 278L596 290" class="o"/>
<path d="M584.5 301l6.5 -3.5l3 5l-6.5 3.5Z" class="b"/>
<path d="M760.9 422.5L788.9 412.3A32.8 46.8 -20.1 0 1 835.8 445A32.8 46.8 -20.1 0 1 821.1 500.2L793.1 510.4A32.8 46.8 -20.1 0 1 746.2 477.8A32.8 46.8 -20.1 0 1 760.9 422.5Z" class="w"/>
<path d="M820.2 427.7A32.8 46.8 -20.1 0 1 834.7 474.4" class="o" style="stroke-width:1.2"/>
<path d="M832.2 491.8L817.2 497.3" class="o"/>
<path d="M838.1 479.6L823 485.1" class="o"/>
<path d="M832.7 491.6L818.1 496.9L824 484.7L838.5 479.4Z" class="wf"/>
<path d="M832.2 491.8L818.1 496.9M838.1 479.6L824 484.7" class="o"/>
<path d="M825 498.5L810 504l-3 -5" class="o"/>
<path d="M726.7 417.8L755.3 407.3A44.1 63 -20.1 0 1 818.4 451.3A44.1 63 -20.1 0 1 798.7 525.7L770.1 536.1A44.1 63 -20.1 0 1 707 492.1A44.1 63 -20.1 0 1 726.7 417.8Z" class="w"/>
<path d="M773.5 534.8L799.3 525.4M775.7 533.8L801.5 524.4M777.8 532.7L803.6 523.2M779.8 531.4L805.6 521.9M781.8 529.9L807.5 520.4M783.6 528.2L809.4 518.8M785.4 526.4L811.1 517M787 524.5L812.8 515M788.5 522.4L814.3 512.9M790 520.1L815.8 510.7M791.3 517.8L817.1 508.4M792.5 515.3L818.3 505.9M793.6 512.7L819.4 503.3M794.5 510L820.3 500.6M795.3 507.2L821.1 497.8M796 504.3L821.8 494.9M796.6 501.4L822.4 491.9M797 498.3L822.8 488.9M797.3 495.2L823.1 485.8M797.5 492L823.2 482.6M797.5 488.8L823.3 479.4M797.3 485.6L823.1 476.1M797.1 482.3L822.9 472.8M796.7 479L822.5 469.5M796.2 475.7L821.9 466.2M795.5 472.4L821.3 462.9M794.7 469.1L820.5 459.6M793.8 465.8L819.6 456.4M792.7 462.6L818.5 453.1M791.6 459.4L817.3 449.9M790.3 456.2L816.1 446.8M788.9 453.1L814.6 443.7M787.3 450.1L813.1 440.6M785.7 447.1L811.5 437.7M784 444.3L809.8 434.8M782.2 441.5L807.9 432M780.2 438.8L806 429.4M778.2 436.2L804 426.8M776.1 433.8L801.9 424.4M774 431.5L799.8 422M771.8 429.3L797.5 419.8M769.5 427.2L795.2 417.8M767.1 425.3L792.9 415.9M764.7 423.6L790.5 414.1M762.3 421.9L788.1 412.5M759.8 420.5L785.6 411.1M757.3 419.2L783.1 409.8M754.8 418.1L780.6 408.7M752.3 417.1L778.1 407.7M749.8 416.4L775.5 406.9M747.2 415.8L773 406.3M744.7 415.3L770.5 405.9M742.2 415.1L768 405.7M739.7 415L765.5 405.6M737.3 415.1L763.1 405.7M734.9 415.4L760.7 406M732.5 415.9L758.3 406.5M730.2 416.6L756 407.1" class="k" style="stroke-width:1.9"/>
<path d="M772.4 535.3A44.1 63 -20.1 0 0 792.2 460.9A44.1 63 -20.1 0 0 729.1 416.9" class="o"/>
<path d="M725.4 424.7L728.8 423.4A39.9 57 -20.1 0 1 785.9 463.3A39.9 57 -20.1 0 1 768 530.5L764.6 531.7A39.9 57 -20.1 0 1 707.5 491.9A39.9 57 -20.1 0 1 725.4 424.7Z" class="w"/>
<path d="M770.3 529.3A39.9 57 -20.1 0 0 784.5 463.7A39.9 57 -20.1 0 0 731.3 422.8" class="t"/>
<path d="M712.3 426L724.3 421.6A42.2 60.3 -20.1 0 1 784.6 463.7A42.2 60.3 -20.1 0 1 765.7 534.8L753.7 539.2A42.2 60.3 -20.1 0 1 693.4 497.1A42.2 60.3 -20.1 0 1 712.3 426Z" class="w"/>
<path d="M756.2 538.3L767.3 534.2M759.2 536.8L770.2 532.7M762 535L773.1 530.9M764.6 532.8L775.7 528.8M767.1 530.4L778.2 526.3M769.4 527.6L780.4 523.6M771.4 524.6L782.4 520.5M773.2 521.3L784.3 517.2M774.8 517.7L785.8 513.7M776.1 514L787.1 509.9M777.1 510L788.2 506M777.9 505.9L789 501.9M778.4 501.7L789.5 497.6M778.6 497.3L789.7 493.2M778.6 492.8L789.7 488.7M778.3 488.2L789.4 484.2M777.7 483.7L788.8 479.6M776.9 479.1L787.9 475M775.7 474.5L786.8 470.5M774.4 470L785.4 465.9M772.7 465.5L783.8 461.5M770.9 461.2L781.9 457.1M768.8 457L779.8 452.9M766.5 452.9L777.5 448.9M764 449L775 445M761.3 445.4L772.3 441.3M758.4 441.9L769.5 437.9M755.4 438.7L766.4 434.7M752.2 435.8L763.3 431.8M749 433.2L760 429.1M745.6 430.8L756.7 426.8M742.2 428.8L753.3 424.8M738.7 427.1L749.8 423.1M735.2 425.8L746.3 421.7M731.7 424.8L742.8 420.7M728.2 424.1L739.3 420.1M724.8 423.8L735.8 419.8M721.3 423.9L732.4 419.8M718 424.3L729.1 420.3M714.8 425.1L725.8 421.1" class="k" style="stroke-width:1.5"/>
<ellipse cx="733" cy="482.6" rx="42.2" ry="60.3" transform="rotate(-20.1 733 482.6)" class="w" style="stroke-width:1.8"/>
<path d="M743.3 541.1L747.3 540.3L747.9 540.7L751.9 539.7L752.4 539.7L756.3 538.3L756.7 538L760.4 536.3L760.6 535.6L764.2 533.6L764.3 532.6L767.7 530.3L767.6 529.1L770.7 526.4L770.4 524.9L773.4 522.1L772.9 520.3L775.6 517.2L774.8 515.3L777.3 512L776.3 509.8L778.5 506.3L777.3 504L779.2 500.4L777.7 498L779.4 494.3L777.6 491.8L779.1 488.1L777 485.5L778.2 481.7L775.9 479.2L776.8 475.4L774.2 472.9L774.9 469.1L772.1 466.7L772.6 463L769.5 460.7L769.8 457.2L766.5 454.9L766.5 451.6L763.1 449.5L763 446.3L759.3 444.5L759 441.5L755.3 439.9L754.8 437.2L750.9 435.8L750.4 433.4L746.4 432.3L745.7 430.2L741.7 429.4L741 427.5L736.9 427.1L736.1 425.5L732 425.4L731.3 424.2L727.2 424.4L726.5 423.6L722.4 424.1L721.8 423.6L717.8 424.5L717.2 424.4L713.3 425.6L712.8 425.8L709.1 427.4L708.7 427.9L705.1 429.8L704.9 430.6L701.5 432.8" class="o" style="stroke-width:1.2"/>
<path d="M727.2 535.1A40.1 57.3 -20.1 0 0 773.2 509.8A40.1 57.3 -20.1 0 0 750.1 439.1A40.1 57.3 -20.1 0 0 696.9 442.3" class="o" style="stroke-width:1.2"/>
<ellipse cx="732.1" cy="482.9" rx="31.8" ry="45.5" transform="rotate(-20.1 732.1 482.9)" class="o" style="stroke-width:0.9"/>
<path d="M716.5 446.6L721.2 444.9A27.6 39.5 -20.1 0 1 760.7 472.5A27.6 39.5 -20.1 0 1 748.3 519.1L743.6 520.8A27.6 39.5 -20.1 0 1 704.1 493.2A27.6 39.5 -20.1 0 1 716.5 446.6Z" class="w" style="stroke-width:1.3"/>
<path d="M684.8 464L718.5 449.1A25.5 36.5 -20.1 0 1 755 474.6A25.5 36.5 -20.1 0 1 743.5 517.6L708.2 527.9A23.8 34 -20.1 0 1 674.1 504.1A23.8 34 -20.1 0 1 684.8 464Z" class="w"/>
<path d="M717.4 526.8A25.3 36.2 -20.1 0 0 732.5 502.4A25.3 36.2 -20.1 0 0 719.9 467.8A25.3 36.2 -20.1 0 0 692.6 458.9M724.9 524.1A25.3 36.2 -20.1 0 0 740 499.6A25.3 36.2 -20.1 0 0 727.4 465.1A25.3 36.2 -20.1 0 0 700.1 456.1M732.5 521.3A25.3 36.2 -20.1 0 0 747.6 496.9A25.3 36.2 -20.1 0 0 735 462.3A25.3 36.2 -20.1 0 0 707.7 453.3M740 518.6A25.3 36.2 -20.1 0 0 755.1 494.1A25.3 36.2 -20.1 0 0 742.5 459.5A25.3 36.2 -20.1 0 0 715.2 450.6" class="o" style="stroke-width:2.7"/>
<path d="M721.6 524.3A24.6 35.2 -20.1 0 0 732.6 482.7A24.6 35.2 -20.1 0 0 697.4 458.1M729.1 521.5A24.6 35.2 -20.1 0 0 740.1 480A24.6 35.2 -20.1 0 0 704.9 455.4M736.6 518.8A24.6 35.2 -20.1 0 0 747.6 477.2A24.6 35.2 -20.1 0 0 712.4 452.7" class="t" style="stroke-width:0.9"/>
<ellipse cx="696.5" cy="496" rx="23.8" ry="34" transform="rotate(-20.1 696.5 496)" class="w" style="stroke-width:1.6"/>
<path d="M710.5 527A23.8 34 -20.1 0 0 721.2 486.9A23.8 34 -20.1 0 0 687.2 463.2" class="o" style="stroke-width:1.2"/>
<ellipse cx="696.5" cy="496" rx="22" ry="31.4" transform="rotate(-20.1 696.5 496)" class="o" style="stroke-width:1.8"/>
<ellipse cx="696.8" cy="495.9" rx="20.2" ry="28.8" transform="rotate(-20.1 696.8 495.9)" class="o" style="stroke-width:1.1"/>
<clipPath id="mi0"><ellipse cx="696.5" cy="496" rx="20.2" ry="28.8" transform="rotate(-20.1 696.5 496)"/></clipPath>
<g clip-path="url(#mi0)"><path d="M713.7 478.1L689.3 487.1A1.8 2.6 -20.1 0 0 688.5 490.1A1.8 2.6 -20.1 0 0 691.1 491.9L715.5 483Z" class="w" style="stroke-width:1.3"/><ellipse cx="690.2" cy="489.5" rx="1.8" ry="2.6" transform="rotate(-20.1 690.2 489.5)" class="w" style="stroke-width:1.3"/><path d="M709.5 471.1L700.1 474.6A1.8 2.6 -20.1 0 0 699.3 477.6A1.8 2.6 -20.1 0 0 701.9 479.4L711.3 476Z" class="w" style="stroke-width:1.3"/><ellipse cx="701" cy="477" rx="1.8" ry="2.6" transform="rotate(-20.1 701 477)" class="w" style="stroke-width:1.3"/><path d="M719.7 498.2L700.9 505.1A1.8 2.6 -20.1 0 0 700.1 508.1A1.8 2.6 -20.1 0 0 702.7 509.9L721.5 503.1Z" class="w" style="stroke-width:1.3"/><ellipse cx="701.8" cy="507.5" rx="1.8" ry="2.6" transform="rotate(-20.1 701.8 507.5)" class="w" style="stroke-width:1.3"/><path d="M715.9 506.4L704.6 510.6A1.8 2.6 -20.1 0 0 703.8 513.6A1.8 2.6 -20.1 0 0 706.4 515.4L717.7 511.3Z" class="w" style="stroke-width:1.3"/><ellipse cx="705.5" cy="513" rx="1.8" ry="2.6" transform="rotate(-20.1 705.5 513)" class="w" style="stroke-width:1.3"/></g>
<path d="M828.4 204L834.9 201.7A7.4 10.6 -20.1 0 1 845.5 209.1A7.4 10.6 -20.1 0 1 842.1 221.6L835.6 224A7.4 10.6 -20.1 0 1 825 216.6A7.4 10.6 -20.1 0 1 828.4 204Z" class="w" style="stroke-width:1.4"/>
<ellipse cx="832" cy="214" rx="7.4" ry="10.6" transform="rotate(-20.1 832 214)" class="w" style="stroke-width:1.4"/>
<path d="M817.2 210.7L829 205.9A6 8.6 -20.1 0 1 837.7 211.9A6 8.6 -20.1 0 1 835 222.1L822.8 226.1A5.7 8.2 -20.1 0 1 814.6 220.4A5.7 8.2 -20.1 0 1 817.2 210.7Z" class="w" style="stroke-width:1.4"/>
<ellipse cx="820" cy="218.4" rx="5.7" ry="8.2" transform="rotate(-20.1 820 218.4)" class="w" style="stroke-width:1.4"/>
<path d="M804.7 213.8L816.7 209.4A6.7 9.6 -20.1 0 1 826.3 216.1A6.7 9.6 -20.1 0 1 823.3 227.4L811.3 231.8A6.7 9.6 -20.1 0 1 801.7 225.1A6.7 9.6 -20.1 0 1 804.7 213.8Z" class="w" style="stroke-width:1.4"/>
<ellipse cx="808" cy="222.8" rx="6.7" ry="9.6" transform="rotate(-20.1 808 222.8)" class="w" style="stroke-width:1.4"/>
<path d="M796.9 220.4L805.9 217.1A4.2 6 -20.1 0 1 811.9 221.3A4.2 6 -20.1 0 1 810.1 228.4L801.1 231.7A4.2 6 -20.1 0 1 795.1 227.5A4.2 6 -20.1 0 1 796.9 220.4Z" class="w" style="stroke-width:1.4"/>
<ellipse cx="799" cy="226.1" rx="4.2" ry="6" transform="rotate(-20.1 799 226.1)" class="w" style="stroke-width:1.4"/>
<path d="M792.7 221.2L796.7 219.7A4.8 6.8 -20.1 0 1 803.5 224.4A4.8 6.8 -20.1 0 1 801.3 232.5L797.3 233.9A4.8 6.8 -20.1 0 1 790.5 229.2A4.8 6.8 -20.1 0 1 792.7 221.2Z" class="w" style="stroke-width:1.4"/>
<ellipse cx="795" cy="227.5" rx="4.8" ry="6.8" transform="rotate(-20.1 795 227.5)" class="w" style="stroke-width:1.4"/>
<path d="M764.1 234.3L793.1 222.3A3.9 5.6 -20.1 0 1 798.7 226.2A3.9 5.6 -20.1 0 1 796.9 232.8L767.1 242.3A3 4.3 -20.1 0 1 762.8 239.3A3 4.3 -20.1 0 1 764.1 234.3Z" class="w" style="stroke-width:1.4"/>
<ellipse cx="765.6" cy="238.3" rx="3" ry="4.3" transform="rotate(-20.1 765.6 238.3)" class="w" style="stroke-width:1.4"/>
<ellipse cx="765.6" cy="238.3" rx="3" ry="4.3" transform="rotate(-20.1 765.6 238.3)" fill="#000" stroke="#000" stroke-width="1.2"/>
<ellipse cx="766.1" cy="238.1" rx="1.1" ry="1.6" transform="rotate(-20.1 766.1 238.1)" fill="#fff" stroke="none"/>
<path d="M770.6 239.3L790.8 232.5" class="o" style="stroke-width:2"/>
<path d="M837.6 223.2A7.4 10.6 -20.1 0 0 841 210.7A7.4 10.6 -20.1 0 0 830.4 203.3" class="o" style="stroke-width:2"/>
<path d="M814.5 230.4A6.7 9.6 -20.1 0 0 816.3 219.7A6.7 9.6 -20.1 0 0 808 212.8" class="o" style="stroke-width:1.6"/>
<path d="M954.1 395.2L961.1 392.6A7.9 11.3 -20.1 0 1 972.4 400.5A7.9 11.3 -20.1 0 1 968.9 413.8L961.9 416.4A7.9 11.3 -20.1 0 1 950.6 408.5A7.9 11.3 -20.1 0 1 954.1 395.2Z" class="w" style="stroke-width:1.4"/>
<ellipse cx="958" cy="405.8" rx="7.9" ry="11.3" transform="rotate(-20.1 958 405.8)" class="w" style="stroke-width:1.4"/>
<path d="M940.9 402.4L954.8 396.9A6.6 9.4 -20.1 0 1 964.2 403.5A6.6 9.4 -20.1 0 1 961.2 414.6L947.1 419.3A6.3 9 -20.1 0 1 938.1 413.1A6.3 9 -20.1 0 1 940.9 402.4Z" class="w" style="stroke-width:1.4"/>
<ellipse cx="944" cy="410.9" rx="6.3" ry="9" transform="rotate(-20.1 944 410.9)" class="w" style="stroke-width:1.4"/>
<path d="M929.6 405.5L940.6 401.5A7 10 -20.1 0 1 950.6 408.5A7 10 -20.1 0 1 947.4 420.3L936.4 424.3A7 10 -20.1 0 1 926.4 417.3A7 10 -20.1 0 1 929.6 405.5Z" class="w" style="stroke-width:1.4"/>
<ellipse cx="933" cy="414.9" rx="7" ry="10" transform="rotate(-20.1 933 414.9)" class="w" style="stroke-width:1.4"/>
<path d="M922.6 411.3L930.6 408.3A4.9 7 -20.1 0 1 937.6 413.2A4.9 7 -20.1 0 1 935.4 421.5L927.4 424.4A4.9 7 -20.1 0 1 920.4 419.5A4.9 7 -20.1 0 1 922.6 411.3Z" class="w" style="stroke-width:1.4"/>
<ellipse cx="925" cy="417.8" rx="4.9" ry="7" transform="rotate(-20.1 925 417.8)" class="w" style="stroke-width:1.4"/>
<path d="M917.3 412.2L922.3 410.3A5.6 8 -20.1 0 1 930.3 415.9A5.6 8 -20.1 0 1 927.7 425.4L922.7 427.2A5.6 8 -20.1 0 1 914.7 421.6A5.6 8 -20.1 0 1 917.3 412.2Z" class="w" style="stroke-width:1.4"/>
<ellipse cx="920" cy="419.7" rx="5.6" ry="8" transform="rotate(-20.1 920 419.7)" class="w" style="stroke-width:1.4"/>
<path d="M907.6 418.3L918.1 414.4A3.9 5.6 -20.1 0 1 923.7 418.3A3.9 5.6 -20.1 0 1 921.9 424.9L911.4 428.8A3.9 5.6 -20.1 0 1 905.8 424.9A3.9 5.6 -20.1 0 1 907.6 418.3Z" class="w" style="stroke-width:1.4"/>
<ellipse cx="909.5" cy="423.5" rx="3.9" ry="5.6" transform="rotate(-20.1 909.5 423.5)" class="w" style="stroke-width:1.4"/>
<path d="M904.4 420.3L907.9 419A3.4 4.8 -20.1 0 1 912.7 422.4A3.4 4.8 -20.1 0 1 911.1 428L907.6 429.3A3.4 4.8 -20.1 0 1 902.8 426A3.4 4.8 -20.1 0 1 904.4 420.3Z" class="w" style="stroke-width:1.4"/>
<ellipse cx="906" cy="424.8" rx="3.4" ry="4.8" transform="rotate(-20.1 906 424.8)" class="w" style="stroke-width:1.4"/>
<path d="M872.8 434L905 422.2A2 2.8 -20.1 0 1 907.8 424.1A2 2.8 -20.1 0 1 907 427.4L874.7 439.2A2 2.8 -20.1 0 1 871.9 437.3A2 2.8 -20.1 0 1 872.8 434Z" class="w" style="stroke-width:1.4"/>
<ellipse cx="873.8" cy="436.6" rx="2" ry="2.8" transform="rotate(-20.1 873.8 436.6)" class="w" style="stroke-width:1.4"/>
<path d="M939.4 423.2A7 10 -20.1 0 0 942.6 411.4A7 10 -20.1 0 0 932.6 404.4" class="o" style="stroke-width:2.2"/>
<path d="M964.9 415.3A7.9 11.3 -20.1 0 0 968.4 402A7.9 11.3 -20.1 0 0 957.1 394.1" class="o" style="stroke-width:2"/>
<path d="M924.7 426.5A5.6 8 -20.1 0 0 927.3 417A5.6 8 -20.1 0 0 919.3 411.4" class="o" style="stroke-width:1.8"/>
<path d="M909.1 428.8A3.4 4.8 -20.1 0 0 910.7 423.1A3.4 4.8 -20.1 0 0 905.9 419.7" class="o" style="stroke-width:1.6"/>
<path d="M931.5 422.7l-3 4.5l7.5 -1.5Z" class="w" style="stroke-width:1.2"/>
<path d="M625.5 175L625.5 212.5" class="g"/>
<path d="M835 153.8L835 190" class="g"/>
<path d="M748.2 553.8L748.2 590" class="g"/>
<path d="M931.2 437.5L931.2 478" class="g"/>
<path d="M1643.4 79.7L1643.4 107.8" class="g"/>
<path d="M1781.8 169.7L1781.8 204.4" class="g"/>
<path d="M1313.8 328.8L1365 360" class="g"/>
<path d="M1450 288L1393.8 361.2" class="g"/>
<text x="578.04" y="128.75" textLength="118.55" lengthAdjust="spacingAndGlyphs" style="font-size:28px;font-style:italic;">female insert,</text>
<text x="578.32" y="160" textLength="92.69" lengthAdjust="spacingAndGlyphs" style="font-size:28px;font-style:italic;">assembled</text>
<text x="810.3" y="139.6" textLength="127.73" lengthAdjust="spacingAndGlyphs" style="font-size:28px;font-style:italic;">female contact</text>
<text x="690.9" y="618.75" textLength="102.12" lengthAdjust="spacingAndGlyphs" style="font-size:28px;font-style:italic;">male insert,</text>
<text x="690.82" y="650" textLength="92.44" lengthAdjust="spacingAndGlyphs" style="font-size:28px;font-style:italic;">assembled</text>
<text x="877.15" y="505" textLength="112.14" lengthAdjust="spacingAndGlyphs" style="font-size:28px;font-style:italic;">male contact</text>
<text x="1319.91" y="393.75" textLength="247.08" lengthAdjust="spacingAndGlyphs" style="font-size:28px;font-style:italic;">sleeve with insulating sleeve</text>
<text x="1609.61" y="66.6" textLength="35.25" lengthAdjust="spacingAndGlyphs" style="font-size:28px;font-style:italic;">seal</text>
<text x="1726.75" y="230.6" textLength="124.73" lengthAdjust="spacingAndGlyphs" style="font-size:28px;font-style:italic;">pressing screw</text>
<text x="1415.94" y="462" textLength="83.13" lengthAdjust="spacingAndGlyphs" style="font-size:34.5px;font-weight:bold;">1.0 Nm</text>
<text x="1817.43" y="295.6" textLength="83.55" lengthAdjust="spacingAndGlyphs" style="font-size:34.5px;font-weight:bold;">1.5 Nm</text>
<g transform="translate(1359.7 454.1)"><path d="M-17.7 -33.2L-11.8 -33.2C-8 -33.2 -4.6 -29 -3.1 -24.5C-2 -21 -2.4 -17 -4.3 -14L22.7 22.7L15.5 28.6L-11.2 -7.1C-16 -6.3 -21 -7.8 -24.8 -10.9C-27 -12.7 -28.4 -15.5 -28.8 -18.5C-29.2 -21.5 -28.9 -24 -28 -26.4L-22 -18.6L-14.9 -19.4L-12.2 -24.8Z" fill="#fff" stroke="#000" stroke-width="3.4" stroke-linejoin="round"/><path d="M0.6 -31.3A31.3 31.3 0 0 1 31.2 -1" fill="none" stroke="#000" stroke-width="3.4"/><path d="M-0.6 31.3A31.3 31.3 0 0 1 -31.2 1" fill="none" stroke="#000" stroke-width="3.4"/><path class="b" d="M24.2 -2.5H38.2L31.1 9.3Z"/><path class="b" d="M-38.5 2.5H-24.2L-31.4 -9.3Z"/></g>
<g transform="translate(1765.7 288.1)"><path d="M-17.7 -33.2L-11.8 -33.2C-8 -33.2 -4.6 -29 -3.1 -24.5C-2 -21 -2.4 -17 -4.3 -14L22.7 22.7L15.5 28.6L-11.2 -7.1C-16 -6.3 -21 -7.8 -24.8 -10.9C-27 -12.7 -28.4 -15.5 -28.8 -18.5C-29.2 -21.5 -28.9 -24 -28 -26.4L-22 -18.6L-14.9 -19.4L-12.2 -24.8Z" fill="#fff" stroke="#000" stroke-width="3.4" stroke-linejoin="round"/><path d="M0.6 -31.3A31.3 31.3 0 0 1 31.2 -1" fill="none" stroke="#000" stroke-width="3.4"/><path d="M-0.6 31.3A31.3 31.3 0 0 1 -31.2 1" fill="none" stroke="#000" stroke-width="3.4"/><path class="b" d="M24.2 -2.5H38.2L31.1 9.3Z"/><path class="b" d="M-38.5 2.5H-24.2L-31.4 -9.3Z"/></g>
<path d="M960 231.9L1120.6 173.5" class="g" style="stroke-width:0.9"/>
<path class="b" d="M960 231.9L973.3 224.7L974.8 228.8Z"/>
<path class="b" d="M1120.6 173.5L1107.3 180.7L1105.8 176.6Z"/>
<path d="M958.6 228.1L1012.5 372" class="g" style="stroke-width:0.9"/>
<path d="M1119.2 169.7L1205.5 407" class="g" style="stroke-width:0.9"/>
<text x="974.5" y="215.68" transform="rotate(-20 974.5 215.68)" textLength="26.66" lengthAdjust="spacingAndGlyphs" style="font-size:28px;font-style:italic;">33</text>
<text x="1010.01" y="202.72" transform="rotate(-20 1010.01 202.72)" textLength="86.41" lengthAdjust="spacingAndGlyphs" style="font-size:28px;font-style:italic;">dismantle</text>
<path d="M928 309.4L1040.6 268" class="g" style="stroke-width:0.9"/>
<path class="b" d="M981.9 289.4L968.6 296.6L967.1 292.5Z"/>
<path class="b" d="M1006.2 280.6L1019.6 273.4L1021.1 277.5Z"/>
<path d="M1004.9 276.8L1034 357" class="g" style="stroke-width:0.9"/>
<text x="924.82" y="298.13" transform="rotate(-20 924.82 298.13)" textLength="36.71" lengthAdjust="spacingAndGlyphs" style="font-size:28px;font-style:italic;">strip</text>
<text x="983.37" y="275.66" transform="rotate(-20 983.37 275.66)" textLength="11.42" lengthAdjust="spacingAndGlyphs" style="font-size:28px;font-style:italic;">5</text>
<path d="M1013.8 472L1205 405" class="g" style="stroke-width:0.9"/>
<path class="b" d="M1140 426.5L1153.3 419.3L1154.8 423.4Z"/>
<path class="b" d="M1204 403.8L1190.7 411L1189.2 406.8Z"/>
<path d="M1116 362L1141 429.3" class="g" style="stroke-width:0.9"/>
<text x="1012.12" y="460.23" transform="rotate(-20 1012.12 460.23)" textLength="120.22" lengthAdjust="spacingAndGlyphs" style="font-size:28px;font-style:italic;">shorten shield</text>
<text x="1153.01" y="408.61" transform="rotate(-20 1153.01 408.61)" textLength="25.95" lengthAdjust="spacingAndGlyphs" style="font-size:28px;font-style:italic;">12</text>
<text x="577.41" y="803.3" textLength="353.21" lengthAdjust="spacingAndGlyphs" style="font-size:28px;font-weight:bold;font-style:italic;">shielding braid diameter ≤ 5.5 mm</text>
<g transform="translate(1.2 2)">
<clipPath id="psclip1"><ellipse cx="1750" cy="889.5" rx="35.7" ry="51" transform="rotate(-20.1 1750 889.5)"/></clipPath>
<ellipse cx="1750" cy="889.5" rx="40" ry="57.2" transform="rotate(-20.1 1750 889.5)" class="w"/>
<ellipse cx="1750" cy="889.5" rx="38.1" ry="54.4" transform="rotate(-20.1 1750 889.5)" class="o"/>
<ellipse cx="1750" cy="889.5" rx="36.1" ry="51.6" transform="rotate(-20.1 1750 889.5)" class="o" style="stroke-width:1.8"/>
<g clip-path="url(#psclip1)"><path d="M1765.8 845.7A35.3 50.5 -20.1 0 0 1718.9 862.9A35.3 50.5 -20.1 0 0 1743.4 929.9A35.3 50.5 -20.1 0 0 1790.3 912.8M1768.5 844.7A35.3 50.5 -20.1 0 0 1721.6 861.9A35.3 50.5 -20.1 0 0 1746.1 928.9A35.3 50.5 -20.1 0 0 1793.1 911.8M1771.3 843.7A35.3 50.5 -20.1 0 0 1724.3 860.9A35.3 50.5 -20.1 0 0 1748.8 927.9A35.3 50.5 -20.1 0 0 1795.8 910.8M1774 842.7A35.3 50.5 -20.1 0 0 1727 859.9A35.3 50.5 -20.1 0 0 1751.6 927A35.3 50.5 -20.1 0 0 1798.5 909.8M1776.7 841.7A35.3 50.5 -20.1 0 0 1729.7 858.9A35.3 50.5 -20.1 0 0 1754.3 926A35.3 50.5 -20.1 0 0 1801.2 908.8M1779.4 840.7A35.3 50.5 -20.1 0 0 1732.5 857.9A35.3 50.5 -20.1 0 0 1757 925A35.3 50.5 -20.1 0 0 1804 907.8M1782.1 839.7A35.3 50.5 -20.1 0 0 1735.2 856.9A35.3 50.5 -20.1 0 0 1759.7 924A35.3 50.5 -20.1 0 0 1806.7 906.8M1784.9 838.7A35.3 50.5 -20.1 0 0 1737.9 855.9A35.3 50.5 -20.1 0 0 1762.5 923A35.3 50.5 -20.1 0 0 1809.4 905.8M1787.6 837.7A35.3 50.5 -20.1 0 0 1740.6 854.9A35.3 50.5 -20.1 0 0 1765.2 922A35.3 50.5 -20.1 0 0 1812.1 904.8M1790.3 836.7A35.3 50.5 -20.1 0 0 1743.4 853.9A35.3 50.5 -20.1 0 0 1767.9 921A35.3 50.5 -20.1 0 0 1814.9 903.8M1793 835.7A35.3 50.5 -20.1 0 0 1746.1 852.9A35.3 50.5 -20.1 0 0 1770.6 920A35.3 50.5 -20.1 0 0 1817.6 902.8" class="t" style="stroke-width:1.25"/><path d="M1798 836.5A32.9 47 -20.1 0 0 1754.3 852.5A32.9 47 -20.1 0 0 1777.1 915A32.9 47 -20.1 0 0 1820.8 899" class="o" style="stroke-width:1"/><path d="M1801.6 832.1A26.6 38 -20.1 0 0 1778.6 866.5A26.6 38 -20.1 0 0 1811 905.6" class="o"/></g>
<ellipse cx="1639" cy="930.1" rx="23.3" ry="33.3" transform="rotate(-20.1 1639 930.1)" class="w"/>
<ellipse cx="1639" cy="930.1" rx="18.2" ry="26" transform="rotate(-20.1 1639 930.1)" class="w"/>
<path d="M1655.7 896.7A18.2 26 -20.1 0 0 1650.1 926.1A18.2 26 -20.1 0 0 1673.3 944.9" class="o" clip-path="url(#sealclip1)"/>
<clipPath id="sealclip1"><ellipse cx="1639" cy="930.1" rx="18.2" ry="26" transform="rotate(-20.1 1639 930.1)"/></clipPath>
<ellipse cx="1241" cy="1075.8" rx="34.8" ry="49.7" transform="rotate(-20.1 1241 1075.8)" class="w"/>
<ellipse cx="1241" cy="1075.8" rx="33.5" ry="47.9" transform="rotate(-20.1 1241 1075.8)" class="o" style="stroke-width:1"/>
<clipPath id="ringclip1"><ellipse cx="1241" cy="1075.8" rx="33.5" ry="47.9" transform="rotate(-20.1 1241 1075.8)"/></clipPath>
<path d="M1253.3 1079.3A33.7 48.2 -20.1 0 0 1298.6 1106" class="o" clip-path="url(#ringclip1)"/>
<path d="M1355.4 976.4L1469.1 936.9L1495.8 932.5L1528.2 1020.7L1504.9 1034.6L1392.6 1077.8A37.8 54 -20.1 0 1 1338.5 1040.1A37.8 54 -20.1 0 1 1355.4 976.4Z" class="w"/>
<path d="M1390.1 1076.3A36.3 51.8 -20.1 0 1 1339.9 1039.6A36.3 51.8 -20.1 0 1 1354.5 979.1" class="o" style="stroke-width:1.3"/>
<path d="M1357.7 979.6L1468.6 941.2" class="o" style="stroke-width:1.4"/>
<path d="M1361.2 983.4L1470.2 945.7" class="o" style="stroke-width:1.6"/>
<path d="M1391.3 963.8L1385.6 974.3M1404.4 959L1398.7 969.5M1434.5 948L1428.8 958.5M1447.6 943.2L1441.9 953.7" class="t" style="stroke-width:0.9"/>
<path d="M1392.2 1073.9L1501.7 1031.7" class="o" style="stroke-width:1.4"/>
<path d="M1392.4 1068.7L1500 1027.2" class="o" style="stroke-width:1.6"/>
<path d="M1428.1 1064.3L1416.9 1060M1441.2 1059.5L1430.1 1055.1M1471.3 1048.5L1460.1 1044.1M1484.4 1043.7L1473.3 1039.3" class="t" style="stroke-width:0.9"/>
<path d="M1358.9 977.2l16 -6.5l1.5 3l-16 6.5Z" class="b"/>
<path d="M1397.7 1074.3l10 -4" class="o" style="stroke-width:2.5;stroke-dasharray:1.5 1.2"/>
<path d="M1436.4 1051.9A31.5 45 -20.1 0 1 1394.4 1019.6A31.5 45 -20.1 0 1 1405.7 967.8" class="o" style="stroke-width:1.2"/>
<path d="M1438.4 1051.2A31.5 45 -20.1 0 1 1396.4 1018.9A31.5 45 -20.1 0 1 1407.7 967.1" class="t" style="stroke-width:0.8"/>
<path d="M1484.6 1032.9A30.8 44 -20.1 0 1 1444.7 1000.1A30.8 44 -20.1 0 1 1456.1 950.4" class="o" style="stroke-width:1.2"/>
<path d="M1498.4 1015.1A23.1 33 -20.1 0 1 1472.3 991.1A23.1 33 -20.1 0 1 1476.8 955.9" class="o" style="stroke-width:1.2"/>
<ellipse cx="1495.2" cy="967.8" rx="4.9" ry="7" transform="rotate(-20.1 1495.2 967.8)" class="w" style="stroke-width:1.2"/>
<ellipse cx="1495.2" cy="967.8" rx="2.4" ry="3.5" transform="rotate(-20.1 1495.2 967.8)" fill="#000"/>
<ellipse cx="1526" cy="971.5" rx="22" ry="44" transform="rotate(-20.1 1526 971.5)" class="w"/>
<ellipse cx="1526.5" cy="971.3" rx="20.7" ry="41.4" transform="rotate(-20.1 1526.5 971.3)" class="o" style="stroke-width:1.8"/>
<path d="M1539.1 1007.2L1535.4 994.3L1543.9 1003.4L1538 990.8L1547.1 996.5L1539.4 985.4L1548.1 987.2L1539.4 978.6L1547 976.3L1538 971.2L1543.8 964.9L1535.3 963.9L1538.9 954.2L1531.6 957.3L1532.8 945.2L1527.3 952.2L1525.9 938.8L1522.7 948.9L1519.1 935.5L1518.4 948L1512.9 935.8L1514.7 949.3L1508.1 939.6L1512.1 952.8L1504.9 946.4L1510.7 958.3L1503.9 955.8L1510.7 965L1505 966.7L1512.1 972.4L1508.2 978L1514.8 979.7L1513.1 988.7L1518.5 986.3L1519.2 997.7L1522.8 991.5L1526.1 1004.2L1527.4 994.7L1532.9 1007.4L1531.7 995.7L1539.1 1007.2Z" class="w" style="stroke-width:2"/>
<ellipse cx="1528.8" cy="970.4" rx="15.5" ry="31" transform="rotate(-20.1 1528.8 970.4)" class="o" style="stroke-width:1.2"/>
<path d="M1162.3 1085.8L1899.5 816.1A12.3 17.6 -20.1 0 1 1917.1 828.4A12.3 17.6 -20.1 0 1 1911.5 849.1L1174.3 1118.9A12.3 17.6 -20.1 0 0 1179.9 1098.1A12.3 17.6 -20.1 0 0 1162.3 1085.8Z" class="wf"/>
<path d="M1162.3 1085.8L1899.5 816.1A12.3 17.6 -20.1 0 1 1917.1 828.4A12.3 17.6 -20.1 0 1 1911.5 849.1L1174.3 1118.9" class="o"/>
<path d="M1116.2 1100.9L1161.7 1084.2A13.5 19.3 -20.1 0 1 1181 1097.7A13.5 19.3 -20.1 0 1 1174.9 1120.5L1129.4 1137.1A13.5 19.3 -20.1 0 0 1135.5 1114.4A13.5 19.3 -20.1 0 0 1116.2 1100.9Z" class="w"/>
<ellipse cx="1122.8" cy="1119" rx="13.5" ry="19.3" transform="rotate(-20.1 1122.8 1119)" class="w"/>
<ellipse cx="1123.3" cy="1118.9" rx="10.1" ry="14.5" transform="rotate(-20.1 1123.3 1118.9)" class="o" style="stroke-width:1.2"/>
<path d="M1033.4 1148.6L1122.2 1116.1A4.2 6 -20.1 0 1 1128.2 1120.3A4.2 6 -20.1 0 1 1126.4 1127.4L1037.5 1159.9A4.2 6 -20.1 0 1 1031.5 1155.7A4.2 6 -20.1 0 1 1033.4 1148.6Z" class="w"/>
<ellipse cx="1035.5" cy="1154.3" rx="4.2" ry="6" transform="rotate(-20.1 1035.5 1154.3)" class="w"/>
<ellipse cx="1035.5" cy="1154.3" rx="3.1" ry="4.4" transform="rotate(-20.1 1035.5 1154.3)" class="o" style="stroke-width:1"/>
<path d="M1036 1151.2L1013.4 1159.5A1.9 2.7 -20.1 0 0 1012.6 1162.6A1.9 2.7 -20.1 0 0 1015.3 1164.5L1037.8 1156.3Z" class="w"/>
<ellipse cx="1014.4" cy="1162" rx="1.9" ry="2.7" transform="rotate(-20.1 1014.4 1162)" class="w"/>
<path d="M1033.4 1136.2L1122.2 1103.7A4.2 6 -20.1 0 1 1128.2 1107.9A4.2 6 -20.1 0 1 1126.4 1115L1037.5 1147.5A4.2 6 -20.1 0 1 1031.5 1143.3A4.2 6 -20.1 0 1 1033.4 1136.2Z" class="w"/>
<ellipse cx="1035.5" cy="1141.9" rx="4.2" ry="6" transform="rotate(-20.1 1035.5 1141.9)" class="w"/>
<ellipse cx="1035.5" cy="1141.9" rx="3.1" ry="4.4" transform="rotate(-20.1 1035.5 1141.9)" class="o" style="stroke-width:1"/>
<path d="M1036 1138.8L1013.4 1147.1A1.9 2.7 -20.1 0 0 1012.6 1150.2A1.9 2.7 -20.1 0 0 1015.3 1152.1L1037.8 1143.9Z" class="w"/>
<ellipse cx="1014.4" cy="1149.6" rx="1.9" ry="2.7" transform="rotate(-20.1 1014.4 1149.6)" class="w"/>
<path d="M1043.4 1152.1L1122.2 1123.3A4.2 6 -20.1 0 1 1128.2 1127.5A4.2 6 -20.1 0 1 1126.4 1134.6L1047.5 1163.4A4.2 6 -20.1 0 1 1041.5 1159.2A4.2 6 -20.1 0 1 1043.4 1152.1Z" class="w"/>
<ellipse cx="1045.5" cy="1157.8" rx="4.2" ry="6" transform="rotate(-20.1 1045.5 1157.8)" class="w"/>
<ellipse cx="1045.5" cy="1157.8" rx="3.1" ry="4.4" transform="rotate(-20.1 1045.5 1157.8)" class="o" style="stroke-width:1"/>
<path d="M1046 1154.7L1023.4 1163A1.9 2.7 -20.1 0 0 1022.6 1166.1A1.9 2.7 -20.1 0 0 1025.3 1168L1047.8 1159.8Z" class="w"/>
<ellipse cx="1024.3" cy="1165.5" rx="1.9" ry="2.7" transform="rotate(-20.1 1024.3 1165.5)" class="w"/>
<path d="M1043.4 1139L1122.2 1110.2A4.2 6 -20.1 0 1 1128.2 1114.4A4.2 6 -20.1 0 1 1126.4 1121.5L1047.5 1150.3A4.2 6 -20.1 0 1 1041.5 1146.1A4.2 6 -20.1 0 1 1043.4 1139Z" class="w"/>
<ellipse cx="1045.5" cy="1144.7" rx="4.2" ry="6" transform="rotate(-20.1 1045.5 1144.7)" class="w"/>
<ellipse cx="1045.5" cy="1144.7" rx="3.1" ry="4.4" transform="rotate(-20.1 1045.5 1144.7)" class="o" style="stroke-width:1"/>
<path d="M1046 1141.6L1023.4 1149.9A1.9 2.7 -20.1 0 0 1022.6 1153A1.9 2.7 -20.1 0 0 1025.3 1154.9L1047.8 1146.7Z" class="w"/>
<ellipse cx="1024.3" cy="1152.4" rx="1.9" ry="2.7" transform="rotate(-20.1 1024.3 1152.4)" class="w"/>
<path d="M1802.9 812.2C1814.2 808.1 1834.2 816 1841.1 820A29.4 42 -20.1 0 1 1865.7 852.8A29.4 42 -20.1 0 1 1860.1 890.8C1857.6 895.1 1848.6 909.3 1843 911.4Z" class="w"/>
<path d="M1828.9 824.8L1846.7 823.5" class="o"/>
<path d="M1730.3 835.8L1790.3 813.8A40 57.2 -20.1 0 1 1847.6 853.8A40 57.2 -20.1 0 1 1829.7 921.3L1769.7 943.2A40 57.2 -20.1 0 0 1787.6 875.7A40 57.2 -20.1 0 0 1730.3 835.8Z" class="w"/>
<path d="M1773.9 941.7A40 57.2 -20.1 0 0 1791.8 874.2A40 57.2 -20.1 0 0 1734.6 834.2" class="o"/>
<path d="M1775.3 941.1L1831.1 920.7M1778.2 939.7L1833.9 919.3M1780.8 938L1836.6 917.5M1783.4 935.9L1839.1 915.5M1785.7 933.6L1841.5 913.2M1787.8 931L1843.6 910.6M1789.7 928.1L1845.5 907.7M1791.5 925L1847.2 904.6M1792.9 921.6L1848.7 901.2M1794.2 918.1L1850 897.6M1795.2 914.3L1851 893.9M1795.9 910.4L1851.7 890M1796.4 906.4L1852.2 885.9M1796.6 902.2L1852.4 881.8M1796.6 897.9L1852.4 877.5M1796.3 893.6L1852.1 873.2M1795.8 889.3L1851.5 868.9M1794.9 884.9L1850.7 864.5M1793.9 880.6L1849.7 860.2M1792.6 876.3L1848.3 855.9M1791 872.1L1846.8 851.7M1789.3 868L1845 847.6M1787.3 864L1843 843.6M1785.1 860.1L1840.9 839.7M1782.7 856.5L1838.5 836M1780.1 853L1835.9 832.6M1777.4 849.7L1833.2 829.3M1774.6 846.7L1830.3 826.3M1771.6 843.9L1827.4 823.5M1768.5 841.4L1824.3 821M1765.3 839.2L1821.1 818.8M1762.1 837.3L1817.8 816.8M1758.8 835.6L1814.5 815.2M1755.4 834.4L1811.2 814M1752.1 833.4L1807.9 813M1748.8 832.8L1804.6 812.4M1745.5 832.5L1801.3 812.1M1742.3 832.6L1798.1 812.2M1739.1 833L1794.9 812.6M1736.1 833.7L1791.8 813.3" class="k" style="stroke-width:1.8"/>
<path d="M1829.7 921.3A40 57.2 -20.1 0 0 1847.6 853.8A40 57.2 -20.1 0 0 1790.3 813.8" class="o"/>
<path d="M1627.6 898.8L1658.6 887.5A23.3 33.3 -20.1 0 1 1691.9 910.8A23.3 33.3 -20.1 0 1 1681.4 950L1650.4 961.4A23.3 33.3 -20.1 0 0 1660.9 922.1A23.3 33.3 -20.1 0 0 1627.6 898.8Z" class="w"/>
<path d="M1223.9 1029.1L1264.9 1014.1A34.8 49.7 -20.1 0 1 1314.7 1048.8A34.8 49.7 -20.1 0 1 1299.1 1107.4L1258.1 1122.4A34.8 49.7 -20.1 0 0 1273.7 1063.8A34.8 49.7 -20.1 0 0 1223.9 1029.1Z" class="w"/>
<path d="M1254.2 1121.7A33.5 47.9 -20.1 0 0 1276.4 1089.8A33.5 47.9 -20.1 0 0 1259 1042.2A33.5 47.9 -20.1 0 0 1221.5 1032.2" class="o" style="stroke-width:1"/>
<path d="M1321 1060L1285 1075.9L1285 1095.3L1313.8 1084.6L1320 1082Z" class="wf"/>
<path d="M1318.5 1062.3L1285 1075.9L1285 1095.3L1313.8 1084.6Q1317.5 1083.6 1317 1087" class="o"/>
<path d="M1286.5 1093L1313 1083" class="t"/>
<path d="M1291.8 1075.9L1325.2 1063.7" class="o"/>
<path d="M1544.1 929.6L1568.8 922.7A16.2 32.5 -20.1 0 1 1595.3 947.6A16.2 32.5 -20.1 0 1 1591.2 983.7L1567.9 994.4A17.2 34.5 -20.1 0 0 1572.2 956.1A17.2 34.5 -20.1 0 0 1544.1 929.6Z" class="w" style="stroke-width:1"/>
<path d="M1569.4 997L1592.7 986.4A17.8 35.5 -20.1 0 0 1596.7 983.1L1573.6 993.6Z" class="w" style="stroke-width:1.5"/>
<path d="M1574.5 992.4L1597.5 982A17.8 35.5 -20.1 0 0 1599.8 975.9L1577 986Z" class="w" style="stroke-width:1.5"/>
<path d="M1577.3 984.1L1600.2 974.1A17.8 35.5 -20.1 0 0 1600.6 965.9L1577.8 975.4Z" class="w" style="stroke-width:1.5"/>
<path d="M1577.6 973.1L1600.5 963.7A17.8 35.5 -20.1 0 0 1598.9 954.4L1576 963.3Z" class="w" style="stroke-width:1.5"/>
<path d="M1575.3 960.8L1598.3 952A17.8 35.5 -20.1 0 0 1594.9 942.8L1571.7 950.9Z" class="w" style="stroke-width:1.5"/>
<path d="M1570.7 948.6L1593.9 940.5A17.8 35.5 -20.1 0 0 1589.1 932.4L1565.6 940Z" class="w" style="stroke-width:1.5"/>
<path d="M1564.2 938.1L1587.8 930.5A17.8 35.5 -20.1 0 0 1582.2 924.5L1558.4 931.6Z" class="w" style="stroke-width:1.5"/>
<path d="M1556.8 930.4L1580.8 923.3A17.8 35.5 -20.1 0 0 1575.1 920.1L1550.8 927Z" class="w" style="stroke-width:1.5"/>
<path d="M1549.3 926.5L1573.7 919.7A17.8 35.5 -20.1 0 0 1568.5 919.6L1543.9 926.5Z" class="w" style="stroke-width:1.5"/>
<path d="M1535.9 924.1L1540.9 922.3A21.2 42.5 -20.1 0 1 1575.5 954.9A21.2 42.5 -20.1 0 1 1570.1 1002.1L1565.1 1003.9A21.2 42.5 -20.1 0 0 1570.5 956.7A21.2 42.5 -20.1 0 0 1535.9 924.1Z" class="w"/>
<path d="M1567.5 1003A21.2 42.5 -20.1 0 0 1572.9 955.8A21.2 42.5 -20.1 0 0 1538.3 923.2" class="o"/>
<path d="M1485 936.2L1537 923.5L1538.9 928.7L1486.9 941.4Z" class="w" style="stroke-width:1.2"/>
<path d="M1485.7 938L1537.7 925.3" class="o" style="stroke-width:2.6;stroke-dasharray:1.7 1.1;stroke-linecap:butt"/>
<path d="M1524 1025.5L1566 1003.5L1564.1 998.3L1522.1 1020.3Z" class="w" style="stroke-width:1.2"/>
<path d="M1523.3 1023.7L1565.3 1001.7" class="o" style="stroke-width:2.6;stroke-dasharray:1.7 1.1;stroke-linecap:butt"/>
<path d="M1510.9 930.2L1535.4 921.2A22 44 -20.1 0 1 1571.2 954.9A22 44 -20.1 0 1 1565.6 1003.8L1541.1 1012.8A22 44 -20.1 0 0 1546.7 963.9A22 44 -20.1 0 0 1510.9 930.2Z" class="w"/>
<path d="M1552.5 1008.4A22 44 -20.1 0 0 1556.1 960.5A22 44 -20.1 0 0 1522.4 926.2M1554.8 1007.5A22 44 -20.1 0 0 1558.4 959.6A22 44 -20.1 0 0 1524.8 925.3M1557.2 1006.7A22 44 -20.1 0 0 1560.7 958.8A22 44 -20.1 0 0 1527.1 924.4" class="g" style="stroke-width:1.1;stroke:#666"/>
<path d="M1544.4 1011.6A22 44 -20.1 0 0 1549.9 962.7A22 44 -20.1 0 0 1514.2 928.9" class="o"/>
<path d="M1538.7 1010.7A20.7 41.4 -20.1 0 0 1550.5 985.8A20.7 41.4 -20.1 0 0 1535.5 944.7A20.7 41.4 -20.1 0 0 1510.4 933.3" class="o" style="stroke-width:1.8"/>
<path d="M1568.3 979.3l9 -3.3l1 9.5l-9 3.3Z" class="w" style="stroke-width:1.3"/>
</g>
<path d="M649.9 1010.5L674.9 1001.4A32.8 46.8 -20.1 0 1 721.8 1034.1A32.8 46.8 -20.1 0 1 707.1 1089.3L682.1 1098.4A32.8 46.8 -20.1 0 1 635.2 1065.8A32.8 46.8 -20.1 0 1 649.9 1010.5Z" class="w"/>
<path d="M706.2 1016.8A32.8 46.8 -20.1 0 1 720.7 1063.5" class="o" style="stroke-width:1.2"/>
<path d="M718.2 1080.9L703.2 1086.4" class="o"/>
<path d="M724.1 1068.7L709 1074.2" class="o"/>
<path d="M718.7 1080.7L704.1 1086L710 1073.8L724.5 1068.5Z" class="wf"/>
<path d="M718.2 1080.9L704.1 1086M724.1 1068.7L710 1073.8" class="o"/>
<path d="M711 1087.6L696 1093.1l-3 -5" class="o"/>
<path d="M617.3 1005.2L644.3 995.3A44.1 63 -20.1 0 1 707.4 1039.3A44.1 63 -20.1 0 1 687.7 1113.7L660.7 1123.5A44.1 63 -20.1 0 1 597.6 1079.5A44.1 63 -20.1 0 1 617.3 1005.2Z" class="w"/>
<path d="M664.1 1122.2L688.3 1113.4M666.3 1121.3L690.5 1112.4M668.4 1120.1L692.6 1111.2M670.4 1118.8L694.6 1109.9M672.4 1117.3L696.5 1108.4M674.2 1115.6L698.4 1106.8M676 1113.8L700.1 1105M677.6 1111.9L701.8 1103M679.1 1109.8L703.3 1100.9M680.6 1107.6L704.8 1098.7M681.9 1105.2L706.1 1096.4M683.1 1102.7L707.3 1093.9M684.2 1100.1L708.4 1091.3M685.1 1097.4L709.3 1088.6M685.9 1094.6L710.1 1085.8M686.6 1091.7L710.8 1082.9M687.2 1088.8L711.4 1079.9M687.6 1085.7L711.8 1076.9M687.9 1082.6L712.1 1073.8M688.1 1079.4L712.2 1070.6M688.1 1076.2L712.3 1067.4M687.9 1073L712.1 1064.1M687.7 1069.7L711.9 1060.8M687.3 1066.4L711.5 1057.5M686.8 1063.1L710.9 1054.2M686.1 1059.8L710.3 1050.9M685.3 1056.5L709.5 1047.6M684.4 1053.2L708.6 1044.4M683.3 1050L707.5 1041.1M682.2 1046.8L706.3 1037.9M680.9 1043.6L705.1 1034.8M679.5 1040.5L703.6 1031.7M677.9 1037.5L702.1 1028.6M676.3 1034.5L700.5 1025.7M674.6 1031.7L698.8 1022.8M672.8 1028.9L696.9 1020M670.8 1026.2L695 1017.4M668.8 1023.7L693 1014.8M666.7 1021.2L690.9 1012.4M664.6 1018.9L688.8 1010M662.4 1016.7L686.5 1007.8M660.1 1014.6L684.2 1005.8M657.7 1012.7L681.9 1003.9M655.3 1011L679.5 1002.1M652.9 1009.4L677.1 1000.5M650.4 1007.9L674.6 999.1M647.9 1006.6L672.1 997.8M645.4 1005.5L669.6 996.7M642.9 1004.6L667.1 995.7M640.4 1003.8L664.5 994.9M637.8 1003.2L662 994.3M635.3 1002.8L659.5 993.9M632.8 1002.5L657 993.7M630.3 1002.4L654.5 993.6M627.9 1002.6L652.1 993.7M625.5 1002.8L649.7 994M623.1 1003.3L647.3 994.5M620.8 1004L645 995.1" class="k" style="stroke-width:1.9"/>
<path d="M663 1122.7A44.1 63 -20.1 0 0 682.8 1048.4A44.1 63 -20.1 0 0 619.7 1004.4" class="o"/>
<path d="M612.4 1013.4L619.4 1010.8A39.9 57 -20.1 0 1 676.5 1050.7A39.9 57 -20.1 0 1 658.6 1117.9L651.6 1120.5A39.9 57 -20.1 0 1 594.5 1080.6A39.9 57 -20.1 0 1 612.4 1013.4Z" class="w"/>
<path d="M657.3 1118.1A39.9 57 -20.1 0 0 671.5 1052.5A39.9 57 -20.1 0 0 618.3 1011.6" class="t"/>
<path d="M583.9 1020.7L611.4 1010.6A42 60 -20.1 0 1 671.4 1052.5A42 60 -20.1 0 1 652.6 1123.3L625.1 1133.3A42 60 -20.1 0 1 565.1 1091.4A42 60 -20.1 0 1 583.9 1020.7Z" class="w"/>
<path d="M626.9 1132.7L653.5 1122.9M629.8 1131.3L656.4 1121.6M632.5 1129.7L659.1 1120M635.1 1127.8L661.6 1118M637.5 1125.5L664 1115.8M639.7 1123.1L666.3 1113.3M641.7 1120.3L668.3 1110.6M643.5 1117.3L670.1 1107.6M645.2 1114.1L671.7 1104.4M646.5 1110.7L673.1 1100.9M647.7 1107L674.3 1097.3M648.6 1103.2L675.2 1093.5M649.3 1099.3L675.9 1089.6M649.7 1095.2L676.3 1085.5M649.9 1091.1L676.5 1081.3M649.9 1086.8L676.4 1077.1M649.6 1082.5L676.1 1072.8M649 1078.2L675.6 1068.4M648.2 1073.8L674.8 1064.1M647.2 1069.5L673.7 1059.8M645.9 1065.2L672.5 1055.5M644.4 1061L671 1051.2M642.7 1056.8L669.3 1047.1M640.8 1052.8L667.3 1043.1M638.6 1048.9L665.2 1039.2M636.3 1045.2L662.9 1035.4M633.9 1041.6L660.4 1031.9M631.2 1038.2L657.8 1028.5M628.4 1035.1L655 1025.3M625.5 1032.1L652.1 1022.4M622.5 1029.5L649.1 1019.7M619.4 1027.1L645.9 1017.3M616.2 1024.9L642.7 1015.2M612.9 1023.1L639.5 1013.4M609.6 1021.5L636.2 1011.8M606.3 1020.3L632.9 1010.6M603 1019.4L629.5 1009.7M599.7 1018.8L626.2 1009.1M596.4 1018.5L622.9 1008.8M593.2 1018.6L619.7 1008.8M590 1018.9L616.5 1009.2M586.9 1019.6L613.5 1009.9" class="k" style="stroke-width:1.4"/>
<path d="M629.5 1131.7L654.7 1122.4M632.3 1130.2L657.5 1121M635 1128.4L660.1 1119.2M637.5 1126.4L662.6 1117.2M639.8 1124.1L664.9 1114.9M641.9 1121.5L667.1 1112.3M643.9 1118.6L669 1109.4M645.6 1115.5L670.8 1106.3M647.1 1112.2L672.3 1103M648.4 1108.7L673.6 1099.5M649.5 1105L674.7 1095.8M650.3 1101.2L675.5 1092M650.9 1097.2L676.1 1088M651.3 1093.1L676.4 1083.9M651.4 1088.9L676.5 1079.7M651.2 1084.6L676.3 1075.4M650.8 1080.3L675.9 1071.1M650.1 1075.9L675.3 1066.7M649.2 1071.6L674.4 1062.4M648.1 1067.2L673.3 1058M646.7 1063L671.9 1053.8M645.2 1058.8L670.3 1049.6M643.4 1054.7L668.5 1045.5M641.4 1050.7L666.5 1041.5M639.2 1046.9L664.3 1037.7M636.8 1043.2L661.9 1034M634.2 1039.7L659.4 1030.5M631.5 1036.4L656.7 1027.2M628.7 1033.3L653.8 1024.1M625.7 1030.5L650.9 1021.3M622.7 1028L647.8 1018.7M619.5 1025.7L644.7 1016.5M616.3 1023.6L641.4 1014.4M613 1021.9L638.2 1012.7M609.7 1020.5L634.9 1011.3M606.4 1019.4L631.5 1010.2M603.1 1018.6L628.2 1009.4M599.8 1018.1L624.9 1008.9M596.5 1018L621.6 1008.8M593.3 1018.2L618.4 1009M590.2 1018.7L615.3 1009.5M587.1 1019.5L612.3 1010.3" class="k" style="stroke-width:0.7"/>
<ellipse cx="604.5" cy="1077" rx="42" ry="60" transform="rotate(-20.1 604.5 1077)" class="w" style="stroke-width:1.8"/>
<path d="M614.7 1135.2L618.7 1134.5L619.4 1134.8L623.3 1133.8L623.8 1133.8L627.7 1132.4L628 1132.1L631.7 1130.4L632 1129.7L635.5 1127.7L635.6 1126.8L639 1124.5L638.9 1123.2L642.1 1120.6L641.8 1119.1L644.7 1116.3L644.2 1114.5L646.9 1111.4L646.1 1109.5L648.6 1106.2L647.6 1104.1L649.8 1100.6L648.5 1098.3L650.5 1094.8L649 1092.4L650.7 1088.7L648.9 1086.2L650.3 1082.4L648.3 1079.9L649.5 1076.1L647.2 1073.6L648.1 1069.8L645.5 1067.3L646.2 1063.6L643.4 1061.2L643.9 1057.5L640.8 1055.2L641.1 1051.7L637.8 1049.5L637.9 1046.1L634.5 1044.1L634.3 1040.9L630.7 1039.1L630.4 1036.1L626.7 1034.5L626.2 1031.8L622.3 1030.5L621.8 1028L617.8 1027L617.2 1024.8L613.1 1024L612.5 1022.2L608.4 1021.7L607.6 1020.2L603.5 1020.1L602.8 1018.9L598.7 1019.1L598 1018.3L594 1018.8L593.3 1018.3L589.3 1019.2L588.8 1019.1L584.9 1020.3L584.5 1020.5L580.7 1022L580.4 1022.5L576.8 1024.4L576.6 1025.2L573.1 1027.4" class="o" style="stroke-width:1.2"/>
<path d="M598.6 1129.1A39.8 56.8 -20.1 0 0 644.1 1104A39.8 56.8 -20.1 0 0 621.2 1033.9A39.8 56.8 -20.1 0 0 568.5 1037.1" class="o" style="stroke-width:1.2"/>
<ellipse cx="603.1" cy="1077.5" rx="27.3" ry="39" transform="rotate(-20.1 603.1 1077.5)" class="w"/>
<clipPath id="fi779"><ellipse cx="603.1" cy="1077.5" rx="27.3" ry="39" transform="rotate(-20.1 603.1 1077.5)"/></clipPath>
<g clip-path="url(#fi779)"><path d="M596.8 1039.3A26.9 38.5 -20.1 0 0 577.5 1064.6A26.9 38.5 -20.1 0 0 591.9 1103.9A26.9 38.5 -20.1 0 0 622.9 1110.7" class="o"/><path d="M600.2 1038.6A26.6 38 -20.1 0 0 581.1 1063.5A26.6 38 -20.1 0 0 595.4 1102.4A26.6 38 -20.1 0 0 626 1109.1" class="o" style="stroke-width:1.8"/><path d="M606.9 1038.1A26.2 37.5 -20.1 0 0 584 1061A26.2 37.5 -20.1 0 0 599.2 1102.4A26.2 37.5 -20.1 0 0 631.4 1105.1M609.3 1037.2A26.2 37.5 -20.1 0 0 586.5 1060.1A26.2 37.5 -20.1 0 0 601.6 1101.5A26.2 37.5 -20.1 0 0 633.9 1104.2M611.8 1036.4A26.2 37.5 -20.1 0 0 588.9 1059.2A26.2 37.5 -20.1 0 0 604.1 1100.6A26.2 37.5 -20.1 0 0 636.3 1103.3M614.2 1035.5A26.2 37.5 -20.1 0 0 591.3 1058.3A26.2 37.5 -20.1 0 0 606.5 1099.7A26.2 37.5 -20.1 0 0 638.7 1102.4M616.7 1034.6A26.2 37.5 -20.1 0 0 593.8 1057.4A26.2 37.5 -20.1 0 0 608.9 1098.8A26.2 37.5 -20.1 0 0 641.2 1101.6M619.1 1033.7A26.2 37.5 -20.1 0 0 596.2 1056.6A26.2 37.5 -20.1 0 0 611.4 1098A26.2 37.5 -20.1 0 0 643.6 1100.7M621.6 1032.8A26.2 37.5 -20.1 0 0 598.7 1055.7A26.2 37.5 -20.1 0 0 613.8 1097.1A26.2 37.5 -20.1 0 0 646.1 1099.8M624 1031.9A26.2 37.5 -20.1 0 0 601.1 1054.8A26.2 37.5 -20.1 0 0 616.3 1096.2A26.2 37.5 -20.1 0 0 648.5 1098.9M626.4 1031A26.2 37.5 -20.1 0 0 603.6 1053.9A26.2 37.5 -20.1 0 0 618.7 1095.3A26.2 37.5 -20.1 0 0 651 1098" class="o" style="stroke-width:1.3"/><ellipse cx="607.3" cy="1076.8" rx="20.6" ry="29.5" transform="rotate(-20.1 607.3 1076.8)" class="w" style="stroke-width:1.2"/><ellipse cx="600.7" cy="1079.2" rx="18.5" ry="26.5" transform="rotate(-20.1 600.7 1079.2)" class="w" style="stroke-width:1.2"/></g>
<ellipse cx="603.1" cy="1077.5" rx="27.3" ry="39" transform="rotate(-20.1 603.1 1077.5)" class="o"/>
<ellipse cx="602.2" cy="1062.8" rx="4.6" ry="6.6" transform="rotate(-20.1 602.2 1062.8)" class="w" style="stroke-width:1.2"/>
<ellipse cx="602.8" cy="1062.5" rx="2.5" ry="3.6" transform="rotate(-20.1 602.8 1062.5)" class="w" style="stroke-width:1.2"/>
<ellipse cx="589" cy="1070.2" rx="4.6" ry="6.6" transform="rotate(-20.1 589 1070.2)" class="w" style="stroke-width:1.2"/>
<ellipse cx="589.6" cy="1070" rx="2.5" ry="3.6" transform="rotate(-20.1 589.6 1070)" class="w" style="stroke-width:1.2"/>
<ellipse cx="611.6" cy="1082" rx="4.6" ry="6.6" transform="rotate(-20.1 611.6 1082)" class="w" style="stroke-width:1.2"/>
<ellipse cx="612.2" cy="1081.8" rx="2.5" ry="3.6" transform="rotate(-20.1 612.2 1081.8)" class="w" style="stroke-width:1.2"/>
<ellipse cx="597.8" cy="1089.6" rx="4.6" ry="6.6" transform="rotate(-20.1 597.8 1089.6)" class="w" style="stroke-width:1.2"/>
<ellipse cx="598.4" cy="1089.4" rx="2.5" ry="3.6" transform="rotate(-20.1 598.4 1089.4)" class="w" style="stroke-width:1.2"/>
<path d="M594 1079L586.5 1082.5M606 1071L613 1067M601 1082L608 1094M593.5 1057L596 1069" class="o"/>
<path d="M584.5 1080l6.5 -3.5l3 5l-6.5 3.5Z" class="b"/>
<path d="M760.9 1203.5L788.9 1193.3A32.8 46.8 -20.1 0 1 835.8 1226A32.8 46.8 -20.1 0 1 821.1 1281.2L793.1 1291.4A32.8 46.8 -20.1 0 1 746.2 1258.8A32.8 46.8 -20.1 0 1 760.9 1203.5Z" class="w"/>
<path d="M820.2 1208.7A32.8 46.8 -20.1 0 1 834.7 1255.4" class="o" style="stroke-width:1.2"/>
<path d="M832.2 1272.8L817.2 1278.3" class="o"/>
<path d="M838.1 1260.6L823 1266.1" class="o"/>
<path d="M832.7 1272.6L818.1 1277.9L824 1265.7L838.5 1260.4Z" class="wf"/>
<path d="M832.2 1272.8L818.1 1277.9M838.1 1260.6L824 1265.7" class="o"/>
<path d="M825 1279.5L810 1285l-3 -5" class="o"/>
<path d="M726.7 1198.8L755.3 1188.3A44.1 63 -20.1 0 1 818.4 1232.3A44.1 63 -20.1 0 1 798.7 1306.7L770.1 1317.1A44.1 63 -20.1 0 1 707 1273.1A44.1 63 -20.1 0 1 726.7 1198.8Z" class="w"/>
<path d="M773.5 1315.8L799.3 1306.4M775.7 1314.8L801.5 1305.4M777.8 1313.7L803.6 1304.2M779.8 1312.4L805.6 1302.9M781.8 1310.9L807.5 1301.4M783.6 1309.2L809.4 1299.8M785.4 1307.4L811.1 1298M787 1305.5L812.8 1296M788.5 1303.4L814.3 1293.9M790 1301.1L815.8 1291.7M791.3 1298.8L817.1 1289.4M792.5 1296.3L818.3 1286.9M793.6 1293.7L819.4 1284.3M794.5 1291L820.3 1281.6M795.3 1288.2L821.1 1278.8M796 1285.3L821.8 1275.9M796.6 1282.4L822.4 1272.9M797 1279.3L822.8 1269.9M797.3 1276.2L823.1 1266.8M797.5 1273L823.2 1263.6M797.5 1269.8L823.3 1260.4M797.3 1266.6L823.1 1257.1M797.1 1263.3L822.9 1253.8M796.7 1260L822.5 1250.5M796.2 1256.7L821.9 1247.2M795.5 1253.4L821.3 1243.9M794.7 1250.1L820.5 1240.6M793.8 1246.8L819.6 1237.4M792.7 1243.6L818.5 1234.1M791.6 1240.4L817.3 1230.9M790.3 1237.2L816.1 1227.8M788.9 1234.1L814.6 1224.7M787.3 1231.1L813.1 1221.6M785.7 1228.1L811.5 1218.7M784 1225.3L809.8 1215.8M782.2 1222.5L807.9 1213M780.2 1219.8L806 1210.4M778.2 1217.2L804 1207.8M776.1 1214.8L801.9 1205.4M774 1212.5L799.8 1203M771.8 1210.3L797.5 1200.8M769.5 1208.2L795.2 1198.8M767.1 1206.3L792.9 1196.9M764.7 1204.6L790.5 1195.1M762.3 1202.9L788.1 1193.5M759.8 1201.5L785.6 1192.1M757.3 1200.2L783.1 1190.8M754.8 1199.1L780.6 1189.7M752.3 1198.1L778.1 1188.7M749.8 1197.4L775.5 1187.9M747.2 1196.8L773 1187.3M744.7 1196.3L770.5 1186.9M742.2 1196.1L768 1186.7M739.7 1196L765.5 1186.6M737.3 1196.1L763.1 1186.7M734.9 1196.4L760.7 1187M732.5 1196.9L758.3 1187.5M730.2 1197.6L756 1188.1" class="k" style="stroke-width:1.9"/>
<path d="M772.4 1316.3A44.1 63 -20.1 0 0 792.2 1241.9A44.1 63 -20.1 0 0 729.1 1197.9" class="o"/>
<path d="M725.4 1205.7L728.8 1204.4A39.9 57 -20.1 0 1 785.9 1244.3A39.9 57 -20.1 0 1 768 1311.5L764.6 1312.7A39.9 57 -20.1 0 1 707.5 1272.9A39.9 57 -20.1 0 1 725.4 1205.7Z" class="w"/>
<path d="M770.3 1310.3A39.9 57 -20.1 0 0 784.5 1244.7A39.9 57 -20.1 0 0 731.3 1203.8" class="t"/>
<path d="M712.3 1207L724.3 1202.6A42.2 60.3 -20.1 0 1 784.6 1244.7A42.2 60.3 -20.1 0 1 765.7 1315.8L753.7 1320.2A42.2 60.3 -20.1 0 1 693.4 1278.1A42.2 60.3 -20.1 0 1 712.3 1207Z" class="w"/>
<path d="M756.2 1319.3L767.3 1315.2M759.2 1317.8L770.2 1313.7M762 1316L773.1 1311.9M764.6 1313.8L775.7 1309.8M767.1 1311.4L778.2 1307.3M769.4 1308.6L780.4 1304.6M771.4 1305.6L782.4 1301.5M773.2 1302.3L784.3 1298.2M774.8 1298.7L785.8 1294.7M776.1 1295L787.1 1290.9M777.1 1291L788.2 1287M777.9 1286.9L789 1282.9M778.4 1282.7L789.5 1278.6M778.6 1278.3L789.7 1274.2M778.6 1273.8L789.7 1269.7M778.3 1269.2L789.4 1265.2M777.7 1264.7L788.8 1260.6M776.9 1260.1L787.9 1256M775.7 1255.5L786.8 1251.5M774.4 1251L785.4 1246.9M772.7 1246.5L783.8 1242.5M770.9 1242.2L781.9 1238.1M768.8 1238L779.8 1233.9M766.5 1233.9L777.5 1229.9M764 1230L775 1226M761.3 1226.4L772.3 1222.3M758.4 1222.9L769.5 1218.9M755.4 1219.7L766.4 1215.7M752.2 1216.8L763.3 1212.8M749 1214.2L760 1210.1M745.6 1211.8L756.7 1207.8M742.2 1209.8L753.3 1205.8M738.7 1208.1L749.8 1204.1M735.2 1206.8L746.3 1202.7M731.7 1205.8L742.8 1201.7M728.2 1205.1L739.3 1201.1M724.8 1204.8L735.8 1200.8M721.3 1204.9L732.4 1200.8M718 1205.3L729.1 1201.3M714.8 1206.1L725.8 1202.1" class="k" style="stroke-width:1.5"/>
<ellipse cx="733" cy="1263.6" rx="42.2" ry="60.3" transform="rotate(-20.1 733 1263.6)" class="w" style="stroke-width:1.8"/>
<path d="M743.3 1322.1L747.3 1321.3L747.9 1321.7L751.9 1320.7L752.4 1320.7L756.3 1319.3L756.7 1319L760.4 1317.3L760.6 1316.6L764.2 1314.6L764.3 1313.6L767.7 1311.3L767.6 1310.1L770.7 1307.4L770.4 1305.9L773.4 1303.1L772.9 1301.3L775.6 1298.2L774.8 1296.3L777.3 1293L776.3 1290.8L778.5 1287.3L777.3 1285L779.2 1281.4L777.7 1279L779.4 1275.3L777.6 1272.8L779.1 1269.1L777 1266.5L778.2 1262.7L775.9 1260.2L776.8 1256.4L774.2 1253.9L774.9 1250.1L772.1 1247.7L772.6 1244L769.5 1241.7L769.8 1238.2L766.5 1235.9L766.5 1232.6L763.1 1230.5L763 1227.3L759.3 1225.5L759 1222.5L755.3 1220.9L754.8 1218.2L750.9 1216.8L750.4 1214.4L746.4 1213.3L745.7 1211.2L741.7 1210.4L741 1208.5L736.9 1208.1L736.1 1206.5L732 1206.4L731.3 1205.2L727.2 1205.4L726.5 1204.6L722.4 1205.1L721.8 1204.6L717.8 1205.5L717.2 1205.4L713.3 1206.6L712.8 1206.8L709.1 1208.4L708.7 1208.9L705.1 1210.8L704.9 1211.6L701.5 1213.8" class="o" style="stroke-width:1.2"/>
<path d="M727.2 1316.1A40.1 57.3 -20.1 0 0 773.2 1290.8A40.1 57.3 -20.1 0 0 750.1 1220.1A40.1 57.3 -20.1 0 0 696.9 1223.3" class="o" style="stroke-width:1.2"/>
<ellipse cx="732.1" cy="1263.9" rx="31.8" ry="45.5" transform="rotate(-20.1 732.1 1263.9)" class="o" style="stroke-width:0.9"/>
<path d="M716.5 1227.6L721.2 1225.9A27.6 39.5 -20.1 0 1 760.7 1253.5A27.6 39.5 -20.1 0 1 748.3 1300.1L743.6 1301.8A27.6 39.5 -20.1 0 1 704.1 1274.2A27.6 39.5 -20.1 0 1 716.5 1227.6Z" class="w" style="stroke-width:1.3"/>
<path d="M684.8 1245L718.5 1230.1A25.5 36.5 -20.1 0 1 755 1255.6A25.5 36.5 -20.1 0 1 743.5 1298.6L708.2 1308.9A23.8 34 -20.1 0 1 674.1 1285.1A23.8 34 -20.1 0 1 684.8 1245Z" class="w"/>
<path d="M717.4 1307.8A25.3 36.2 -20.1 0 0 732.5 1283.4A25.3 36.2 -20.1 0 0 719.9 1248.8A25.3 36.2 -20.1 0 0 692.6 1239.9M724.9 1305.1A25.3 36.2 -20.1 0 0 740 1280.6A25.3 36.2 -20.1 0 0 727.4 1246.1A25.3 36.2 -20.1 0 0 700.1 1237.1M732.5 1302.3A25.3 36.2 -20.1 0 0 747.6 1277.9A25.3 36.2 -20.1 0 0 735 1243.3A25.3 36.2 -20.1 0 0 707.7 1234.3M740 1299.6A25.3 36.2 -20.1 0 0 755.1 1275.1A25.3 36.2 -20.1 0 0 742.5 1240.5A25.3 36.2 -20.1 0 0 715.2 1231.6" class="o" style="stroke-width:2.7"/>
<path d="M721.6 1305.3A24.6 35.2 -20.1 0 0 732.6 1263.7A24.6 35.2 -20.1 0 0 697.4 1239.1M729.1 1302.5A24.6 35.2 -20.1 0 0 740.1 1261A24.6 35.2 -20.1 0 0 704.9 1236.4M736.6 1299.8A24.6 35.2 -20.1 0 0 747.6 1258.2A24.6 35.2 -20.1 0 0 712.4 1233.7" class="t" style="stroke-width:0.9"/>
<ellipse cx="696.5" cy="1277" rx="23.8" ry="34" transform="rotate(-20.1 696.5 1277)" class="w" style="stroke-width:1.6"/>
<path d="M710.5 1308A23.8 34 -20.1 0 0 721.2 1267.9A23.8 34 -20.1 0 0 687.2 1244.2" class="o" style="stroke-width:1.2"/>
<ellipse cx="696.5" cy="1277" rx="22" ry="31.4" transform="rotate(-20.1 696.5 1277)" class="o" style="stroke-width:1.8"/>
<ellipse cx="696.8" cy="1276.9" rx="20.2" ry="28.8" transform="rotate(-20.1 696.8 1276.9)" class="o" style="stroke-width:1.1"/>
<clipPath id="mi781"><ellipse cx="696.5" cy="1277" rx="20.2" ry="28.8" transform="rotate(-20.1 696.5 1277)"/></clipPath>
<g clip-path="url(#mi781)"><path d="M713.7 1259.1L689.3 1268.1A1.8 2.6 -20.1 0 0 688.5 1271.1A1.8 2.6 -20.1 0 0 691.1 1272.9L715.5 1264Z" class="w" style="stroke-width:1.3"/><ellipse cx="690.2" cy="1270.5" rx="1.8" ry="2.6" transform="rotate(-20.1 690.2 1270.5)" class="w" style="stroke-width:1.3"/><path d="M709.5 1252.1L700.1 1255.6A1.8 2.6 -20.1 0 0 699.3 1258.6A1.8 2.6 -20.1 0 0 701.9 1260.4L711.3 1257Z" class="w" style="stroke-width:1.3"/><ellipse cx="701" cy="1258" rx="1.8" ry="2.6" transform="rotate(-20.1 701 1258)" class="w" style="stroke-width:1.3"/><path d="M719.7 1279.2L700.9 1286.1A1.8 2.6 -20.1 0 0 700.1 1289.1A1.8 2.6 -20.1 0 0 702.7 1290.9L721.5 1284.1Z" class="w" style="stroke-width:1.3"/><ellipse cx="701.8" cy="1288.5" rx="1.8" ry="2.6" transform="rotate(-20.1 701.8 1288.5)" class="w" style="stroke-width:1.3"/><path d="M715.9 1287.4L704.6 1291.6A1.8 2.6 -20.1 0 0 703.8 1294.6A1.8 2.6 -20.1 0 0 706.4 1296.4L717.7 1292.3Z" class="w" style="stroke-width:1.3"/><ellipse cx="705.5" cy="1294" rx="1.8" ry="2.6" transform="rotate(-20.1 705.5 1294)" class="w" style="stroke-width:1.3"/></g>
<path d="M828.4 983L834.9 980.7A7.4 10.6 -20.1 0 1 845.5 988.1A7.4 10.6 -20.1 0 1 842.1 1000.6L835.6 1003A7.4 10.6 -20.1 0 1 825 995.6A7.4 10.6 -20.1 0 1 828.4 983Z" class="w" style="stroke-width:1.4"/>
<ellipse cx="832" cy="993" rx="7.4" ry="10.6" transform="rotate(-20.1 832 993)" class="w" style="stroke-width:1.4"/>
<path d="M817.2 989.7L829 984.9A6 8.6 -20.1 0 1 837.7 990.9A6 8.6 -20.1 0 1 835 1001.1L822.8 1005.1A5.7 8.2 -20.1 0 1 814.6 999.4A5.7 8.2 -20.1 0 1 817.2 989.7Z" class="w" style="stroke-width:1.4"/>
<ellipse cx="820" cy="997.4" rx="5.7" ry="8.2" transform="rotate(-20.1 820 997.4)" class="w" style="stroke-width:1.4"/>
<path d="M804.7 992.8L816.7 988.4A6.7 9.6 -20.1 0 1 826.3 995.1A6.7 9.6 -20.1 0 1 823.3 1006.4L811.3 1010.8A6.7 9.6 -20.1 0 1 801.7 1004.1A6.7 9.6 -20.1 0 1 804.7 992.8Z" class="w" style="stroke-width:1.4"/>
<ellipse cx="808" cy="1001.8" rx="6.7" ry="9.6" transform="rotate(-20.1 808 1001.8)" class="w" style="stroke-width:1.4"/>
<path d="M796.9 999.4L805.9 996.1A4.2 6 -20.1 0 1 811.9 1000.3A4.2 6 -20.1 0 1 810.1 1007.4L801.1 1010.7A4.2 6 -20.1 0 1 795.1 1006.5A4.2 6 -20.1 0 1 796.9 999.4Z" class="w" style="stroke-width:1.4"/>
<ellipse cx="799" cy="1005.1" rx="4.2" ry="6" transform="rotate(-20.1 799 1005.1)" class="w" style="stroke-width:1.4"/>
<path d="M792.7 1000.2L796.7 998.7A4.8 6.8 -20.1 0 1 803.5 1003.4A4.8 6.8 -20.1 0 1 801.3 1011.5L797.3 1012.9A4.8 6.8 -20.1 0 1 790.5 1008.2A4.8 6.8 -20.1 0 1 792.7 1000.2Z" class="w" style="stroke-width:1.4"/>
<ellipse cx="795" cy="1006.5" rx="4.8" ry="6.8" transform="rotate(-20.1 795 1006.5)" class="w" style="stroke-width:1.4"/>
<path d="M764.1 1013.3L793.1 1001.3A3.9 5.6 -20.1 0 1 798.7 1005.2A3.9 5.6 -20.1 0 1 796.9 1011.8L767.1 1021.3A3 4.3 -20.1 0 1 762.8 1018.3A3 4.3 -20.1 0 1 764.1 1013.3Z" class="w" style="stroke-width:1.4"/>
<ellipse cx="765.6" cy="1017.3" rx="3" ry="4.3" transform="rotate(-20.1 765.6 1017.3)" class="w" style="stroke-width:1.4"/>
<ellipse cx="765.6" cy="1017.3" rx="3" ry="4.3" transform="rotate(-20.1 765.6 1017.3)" fill="#000" stroke="#000" stroke-width="1.2"/>
<ellipse cx="766.1" cy="1017.1" rx="1.1" ry="1.6" transform="rotate(-20.1 766.1 1017.1)" fill="#fff" stroke="none"/>
<path d="M770.6 1018.3L790.8 1011.5" class="o" style="stroke-width:2"/>
<path d="M837.6 1002.2A7.4 10.6 -20.1 0 0 841 989.7A7.4 10.6 -20.1 0 0 830.4 982.3" class="o" style="stroke-width:2"/>
<path d="M814.5 1009.4A6.7 9.6 -20.1 0 0 816.3 998.7A6.7 9.6 -20.1 0 0 808 991.8" class="o" style="stroke-width:1.6"/>
<path d="M954.1 1175.7L961.1 1173.1A7.9 11.3 -20.1 0 1 972.4 1181A7.9 11.3 -20.1 0 1 968.9 1194.3L961.9 1196.9A7.9 11.3 -20.1 0 1 950.6 1189A7.9 11.3 -20.1 0 1 954.1 1175.7Z" class="w" style="stroke-width:1.4"/>
<ellipse cx="958" cy="1186.3" rx="7.9" ry="11.3" transform="rotate(-20.1 958 1186.3)" class="w" style="stroke-width:1.4"/>
<path d="M940.9 1182.9L954.8 1177.4A6.6 9.4 -20.1 0 1 964.2 1184A6.6 9.4 -20.1 0 1 961.2 1195.1L947.1 1199.8A6.3 9 -20.1 0 1 938.1 1193.6A6.3 9 -20.1 0 1 940.9 1182.9Z" class="w" style="stroke-width:1.4"/>
<ellipse cx="944" cy="1191.4" rx="6.3" ry="9" transform="rotate(-20.1 944 1191.4)" class="w" style="stroke-width:1.4"/>
<path d="M929.6 1186L940.6 1182A7 10 -20.1 0 1 950.6 1189A7 10 -20.1 0 1 947.4 1200.8L936.4 1204.8A7 10 -20.1 0 1 926.4 1197.8A7 10 -20.1 0 1 929.6 1186Z" class="w" style="stroke-width:1.4"/>
<ellipse cx="933" cy="1195.4" rx="7" ry="10" transform="rotate(-20.1 933 1195.4)" class="w" style="stroke-width:1.4"/>
<path d="M922.6 1191.8L930.6 1188.8A4.9 7 -20.1 0 1 937.6 1193.7A4.9 7 -20.1 0 1 935.4 1202L927.4 1204.9A4.9 7 -20.1 0 1 920.4 1200A4.9 7 -20.1 0 1 922.6 1191.8Z" class="w" style="stroke-width:1.4"/>
<ellipse cx="925" cy="1198.3" rx="4.9" ry="7" transform="rotate(-20.1 925 1198.3)" class="w" style="stroke-width:1.4"/>
<path d="M917.3 1192.7L922.3 1190.8A5.6 8 -20.1 0 1 930.3 1196.4A5.6 8 -20.1 0 1 927.7 1205.9L922.7 1207.7A5.6 8 -20.1 0 1 914.7 1202.1A5.6 8 -20.1 0 1 917.3 1192.7Z" class="w" style="stroke-width:1.4"/>
<ellipse cx="920" cy="1200.2" rx="5.6" ry="8" transform="rotate(-20.1 920 1200.2)" class="w" style="stroke-width:1.4"/>
<path d="M907.6 1198.8L918.1 1194.9A3.9 5.6 -20.1 0 1 923.7 1198.8A3.9 5.6 -20.1 0 1 921.9 1205.4L911.4 1209.3A3.9 5.6 -20.1 0 1 905.8 1205.4A3.9 5.6 -20.1 0 1 907.6 1198.8Z" class="w" style="stroke-width:1.4"/>
<ellipse cx="909.5" cy="1204" rx="3.9" ry="5.6" transform="rotate(-20.1 909.5 1204)" class="w" style="stroke-width:1.4"/>
<path d="M904.4 1200.8L907.9 1199.5A3.4 4.8 -20.1 0 1 912.7 1202.9A3.4 4.8 -20.1 0 1 911.1 1208.5L907.6 1209.8A3.4 4.8 -20.1 0 1 902.8 1206.5A3.4 4.8 -20.1 0 1 904.4 1200.8Z" class="w" style="stroke-width:1.4"/>
<ellipse cx="906" cy="1205.3" rx="3.4" ry="4.8" transform="rotate(-20.1 906 1205.3)" class="w" style="stroke-width:1.4"/>
<path d="M872.8 1214.5L905 1202.7A2 2.8 -20.1 0 1 907.8 1204.6A2 2.8 -20.1 0 1 907 1207.9L874.7 1219.7A2 2.8 -20.1 0 1 871.9 1217.8A2 2.8 -20.1 0 1 872.8 1214.5Z" class="w" style="stroke-width:1.4"/>
<ellipse cx="873.8" cy="1217.1" rx="2" ry="2.8" transform="rotate(-20.1 873.8 1217.1)" class="w" style="stroke-width:1.4"/>
<path d="M939.4 1203.7A7 10 -20.1 0 0 942.6 1191.9A7 10 -20.1 0 0 932.6 1184.9" class="o" style="stroke-width:2.2"/>
<path d="M964.9 1195.8A7.9 11.3 -20.1 0 0 968.4 1182.5A7.9 11.3 -20.1 0 0 957.1 1174.6" class="o" style="stroke-width:2"/>
<path d="M924.7 1207A5.6 8 -20.1 0 0 927.3 1197.5A5.6 8 -20.1 0 0 919.3 1191.9" class="o" style="stroke-width:1.8"/>
<path d="M909.1 1209.3A3.4 4.8 -20.1 0 0 910.7 1203.6A3.4 4.8 -20.1 0 0 905.9 1200.2" class="o" style="stroke-width:1.6"/>
<path d="M931.5 1203.2l-3 4.5l7.5 -1.5Z" class="w" style="stroke-width:1.2"/>
<path d="M625.5 954L625.5 991.5" class="g"/>
<path d="M835 932.8L835 969" class="g"/>
<path d="M748.2 1332.8L748.2 1369" class="g"/>
<path d="M931.2 1216.5L931.2 1257" class="g"/>
<path d="M1643.4 858.7L1643.4 886.8" class="g"/>
<path d="M1781.8 948.7L1781.8 983.4" class="g"/>
<path d="M1313.8 1107.8L1365 1139" class="g"/>
<path d="M1450 1067L1393.8 1140.2" class="g"/>
<text x="578.04" y="907.75" textLength="118.55" lengthAdjust="spacingAndGlyphs" style="font-size:28px;font-style:italic;">female insert,</text>
<text x="578.32" y="939" textLength="92.69" lengthAdjust="spacingAndGlyphs" style="font-size:28px;font-style:italic;">assembled</text>
<text x="810.3" y="918.6" textLength="127.73" lengthAdjust="spacingAndGlyphs" style="font-size:28px;font-style:italic;">female contact</text>
<text x="690.9" y="1397.75" textLength="102.12" lengthAdjust="spacingAndGlyphs" style="font-size:28px;font-style:italic;">male insert,</text>
<text x="690.82" y="1429" textLength="92.44" lengthAdjust="spacingAndGlyphs" style="font-size:28px;font-style:italic;">assembled</text>
<text x="877.15" y="1284" textLength="112.14" lengthAdjust="spacingAndGlyphs" style="font-size:28px;font-style:italic;">male contact</text>
<text x="1319.91" y="1172.75" textLength="247.08" lengthAdjust="spacingAndGlyphs" style="font-size:28px;font-style:italic;">sleeve with insulating sleeve</text>
<text x="1609.61" y="845.6" textLength="35.25" lengthAdjust="spacingAndGlyphs" style="font-size:28px;font-style:italic;">seal</text>
<text x="1726.75" y="1009.6" textLength="124.73" lengthAdjust="spacingAndGlyphs" style="font-size:28px;font-style:italic;">pressing screw</text>
<text x="1415.94" y="1241" textLength="83.13" lengthAdjust="spacingAndGlyphs" style="font-size:34.5px;font-weight:bold;">1.0 Nm</text>
<text x="1817.43" y="1074.6" textLength="83.55" lengthAdjust="spacingAndGlyphs" style="font-size:34.5px;font-weight:bold;">1.5 Nm</text>
<g transform="translate(1359.7 1233.1)"><path d="M-17.7 -33.2L-11.8 -33.2C-8 -33.2 -4.6 -29 -3.1 -24.5C-2 -21 -2.4 -17 -4.3 -14L22.7 22.7L15.5 28.6L-11.2 -7.1C-16 -6.3 -21 -7.8 -24.8 -10.9C-27 -12.7 -28.4 -15.5 -28.8 -18.5C-29.2 -21.5 -28.9 -24 -28 -26.4L-22 -18.6L-14.9 -19.4L-12.2 -24.8Z" fill="#fff" stroke="#000" stroke-width="3.4" stroke-linejoin="round"/><path d="M0.6 -31.3A31.3 31.3 0 0 1 31.2 -1" fill="none" stroke="#000" stroke-width="3.4"/><path d="M-0.6 31.3A31.3 31.3 0 0 1 -31.2 1" fill="none" stroke="#000" stroke-width="3.4"/><path class="b" d="M24.2 -2.5H38.2L31.1 9.3Z"/><path class="b" d="M-38.5 2.5H-24.2L-31.4 -9.3Z"/></g>
<g transform="translate(1765.7 1067.1)"><path d="M-17.7 -33.2L-11.8 -33.2C-8 -33.2 -4.6 -29 -3.1 -24.5C-2 -21 -2.4 -17 -4.3 -14L22.7 22.7L15.5 28.6L-11.2 -7.1C-16 -6.3 -21 -7.8 -24.8 -10.9C-27 -12.7 -28.4 -15.5 -28.8 -18.5C-29.2 -21.5 -28.9 -24 -28 -26.4L-22 -18.6L-14.9 -19.4L-12.2 -24.8Z" fill="#fff" stroke="#000" stroke-width="3.4" stroke-linejoin="round"/><path d="M0.6 -31.3A31.3 31.3 0 0 1 31.2 -1" fill="none" stroke="#000" stroke-width="3.4"/><path d="M-0.6 31.3A31.3 31.3 0 0 1 -31.2 1" fill="none" stroke="#000" stroke-width="3.4"/><path class="b" d="M24.2 -2.5H38.2L31.1 9.3Z"/><path class="b" d="M-38.5 2.5H-24.2L-31.4 -9.3Z"/></g>
<path d="M958.3 1003.5L1156 931.4" class="g" style="stroke-width:0.9"/>
<path class="b" d="M958.3 1003.5L971.6 996.3L973.1 1000.4Z"/>
<path class="b" d="M1067.7 963.7L1054.4 970.9L1052.9 966.8Z"/>
<path d="M956.9 999.7L1014.5 1151" class="g" style="stroke-width:0.9"/>
<path d="M1066.3 959.9L1118 1101.5" class="g" style="stroke-width:0.9"/>
<text x="997.59" y="976.97" transform="rotate(-20 997.59 976.97)" textLength="23.63" lengthAdjust="spacingAndGlyphs" style="font-size:28px;font-style:italic;">21</text>
<text x="1071.91" y="949.82" transform="rotate(-20 1071.91 949.82)" textLength="86.41" lengthAdjust="spacingAndGlyphs" style="font-size:28px;font-style:italic;">dismantle</text>
<path d="M913.9 1069.5L1034.2 1026.1" class="g" style="stroke-width:0.9"/>
<path class="b" d="M975.8 1048L962.5 1055.2L961 1051.1Z"/>
<path class="b" d="M999.2 1037.8L1012.5 1030.6L1014 1034.7Z"/>
<path d="M997.8 1034L1036 1137" class="g" style="stroke-width:0.9"/>
<text x="913.92" y="1056.93" transform="rotate(-20 913.92 1056.93)" textLength="36.71" lengthAdjust="spacingAndGlyphs" style="font-size:28px;font-style:italic;">strip</text>
<text x="976.77" y="1032.66" transform="rotate(-20 976.77 1032.66)" textLength="11.42" lengthAdjust="spacingAndGlyphs" style="font-size:28px;font-style:italic;">5</text>
<path d="M1027.2 1262.2L1215.3 1194.4" class="g" style="stroke-width:0.9"/>
<path class="b" d="M1149 1218.4L1162.3 1211.2L1163.8 1215.3Z"/>
<path class="b" d="M1215.3 1194.7L1202 1201.9L1200.5 1197.8Z"/>
<path d="M1120.5 1140.4L1150.4 1222.2" class="g" style="stroke-width:0.9"/>
<path d="M1184 1110L1216.3 1197.5" class="g" style="stroke-width:0.9"/>
<text x="1023.32" y="1251.33" transform="rotate(-20 1023.32 1251.33)" textLength="120.42" lengthAdjust="spacingAndGlyphs" style="font-size:28px;font-style:italic;">shorten shield</text>
<text x="1162.71" y="1199.51" transform="rotate(-20 1162.71 1199.51)" textLength="25.95" lengthAdjust="spacingAndGlyphs" style="font-size:28px;font-style:italic;">12</text>
<path d="M1212.5 938.8L1151 1111" class="g"/>
<text x="1212.26" y="891.25" textLength="179.47" lengthAdjust="spacingAndGlyphs" style="font-size:28px;font-style:italic;">wrap shielding braid</text>
<text x="1212.26" y="923.75" textLength="147.26" lengthAdjust="spacingAndGlyphs" style="font-size:28px;font-style:italic;">with copper tape</text>
</svg>
</body></html>
